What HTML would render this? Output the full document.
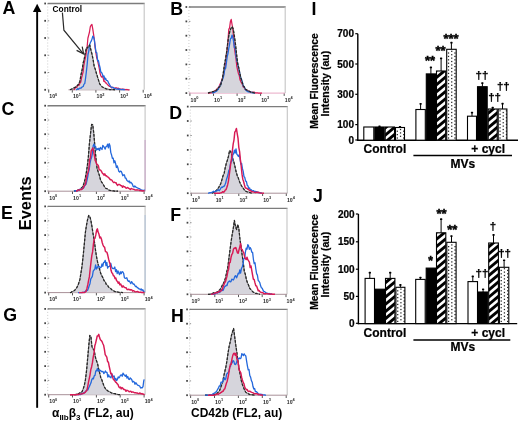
<!DOCTYPE html>
<html><head><meta charset="utf-8"><style>
html,body{margin:0;padding:0;background:#fff;width:520px;height:422px;overflow:hidden}
svg{display:block;will-change:transform}
</style></head><body>
<svg width="520" height="422" viewBox="0 0 520 422">
<rect width="520" height="422" fill="#fff"/>
<text x="2.6" y="14.0" font-size="17.8" font-family="&quot;Liberation Sans&quot;, sans-serif" font-weight="bold">A</text>
<text x="1.4" y="115.2" font-size="17.8" font-family="&quot;Liberation Sans&quot;, sans-serif" font-weight="bold">C</text>
<text x="1.1" y="218.5" font-size="17.8" font-family="&quot;Liberation Sans&quot;, sans-serif" font-weight="bold">E</text>
<text x="3.3" y="321.0" font-size="17.8" font-family="&quot;Liberation Sans&quot;, sans-serif" font-weight="bold">G</text>
<text x="170.3" y="15.3" font-size="17.8" font-family="&quot;Liberation Sans&quot;, sans-serif" font-weight="bold">B</text>
<text x="169.3" y="118.7" font-size="17.8" font-family="&quot;Liberation Sans&quot;, sans-serif" font-weight="bold">D</text>
<text x="170.3" y="221.2" font-size="17.8" font-family="&quot;Liberation Sans&quot;, sans-serif" font-weight="bold">F</text>
<text x="170.9" y="321.5" font-size="17.8" font-family="&quot;Liberation Sans&quot;, sans-serif" font-weight="bold">H</text>
<text x="311.5" y="15.0" font-size="17.8" font-family="&quot;Liberation Sans&quot;, sans-serif" font-weight="bold">I</text>
<text x="312.9" y="202.0" font-size="17.8" font-family="&quot;Liberation Sans&quot;, sans-serif" font-weight="bold">J</text>
<rect x="36.2" y="11" width="1.9" height="396.8" fill="#000"/>
<polygon points="32.9,12.0 41.4,12.0 37.15,3.8" fill="#000"/>
<text transform="translate(31.0,203.3) rotate(-90)" text-anchor="middle" font-size="16.4" font-family="&quot;Liberation Sans&quot;, sans-serif" font-weight="bold">Events</text>
<line x1="47.7" y1="3.5" x2="144.7" y2="3.5" stroke="#7c7c7c" stroke-width="1.35"/>
<line x1="144.2" y1="3.5" x2="144.2" y2="89.8" stroke="#c4c4c4" stroke-width="1.1"/>
<line x1="47.7" y1="3.5" x2="47.7" y2="89.8" stroke="#c0c0c0" stroke-width="0.8" stroke-dasharray="1,2"/>
<line x1="48.7" y1="89.8" x2="48.7" y2="92.6" stroke="#444" stroke-width="0.9"/>
<text x="49.3" y="98.2" font-size="5.2" font-weight="bold" font-family="&quot;Liberation Sans&quot;, sans-serif" fill="#2a2a2a">10<tspan dy="-2.2" font-size="3.9">0</tspan></text>
<line x1="72.3" y1="89.8" x2="72.3" y2="92.6" stroke="#444" stroke-width="0.9"/>
<text x="72.9" y="98.2" font-size="5.2" font-weight="bold" font-family="&quot;Liberation Sans&quot;, sans-serif" fill="#2a2a2a">10<tspan dy="-2.2" font-size="3.9">1</tspan></text>
<line x1="95.9" y1="89.8" x2="95.9" y2="92.6" stroke="#444" stroke-width="0.9"/>
<text x="96.5" y="98.2" font-size="5.2" font-weight="bold" font-family="&quot;Liberation Sans&quot;, sans-serif" fill="#2a2a2a">10<tspan dy="-2.2" font-size="3.9">2</tspan></text>
<line x1="119.6" y1="89.8" x2="119.6" y2="92.6" stroke="#444" stroke-width="0.9"/>
<text x="120.2" y="98.2" font-size="5.2" font-weight="bold" font-family="&quot;Liberation Sans&quot;, sans-serif" fill="#2a2a2a">10<tspan dy="-2.2" font-size="3.9">3</tspan></text>
<line x1="143.2" y1="89.8" x2="143.2" y2="92.6" stroke="#444" stroke-width="0.9"/>
<text x="143.8" y="98.2" font-size="5.2" font-weight="bold" font-family="&quot;Liberation Sans&quot;, sans-serif" fill="#2a2a2a">10<tspan dy="-2.2" font-size="3.9">4</tspan></text>
<rect x="44.3" y="2.6" width="1.7" height="1.8" fill="#444"/>
<line x1="47.7" y1="3.5" x2="49.2" y2="3.5" stroke="#777" stroke-width="0.8"/>
<rect x="44.3" y="19.9" width="1.7" height="1.8" fill="#444"/>
<line x1="47.7" y1="20.8" x2="49.2" y2="20.8" stroke="#777" stroke-width="0.8"/>
<rect x="44.3" y="37.1" width="1.7" height="1.8" fill="#444"/>
<line x1="47.7" y1="38.0" x2="49.2" y2="38.0" stroke="#777" stroke-width="0.8"/>
<rect x="44.3" y="54.4" width="1.7" height="1.8" fill="#444"/>
<line x1="47.7" y1="55.3" x2="49.2" y2="55.3" stroke="#777" stroke-width="0.8"/>
<rect x="44.3" y="71.6" width="1.7" height="1.8" fill="#444"/>
<line x1="47.7" y1="72.5" x2="49.2" y2="72.5" stroke="#777" stroke-width="0.8"/>
<rect x="44.3" y="88.9" width="1.7" height="1.8" fill="#444"/>
<line x1="47.7" y1="89.8" x2="49.2" y2="89.8" stroke="#777" stroke-width="0.8"/>
<line x1="47.7" y1="105.7" x2="145.6" y2="105.7" stroke="#7c7c7c" stroke-width="1.35"/>
<line x1="145.1" y1="105.7" x2="145.1" y2="191.2" stroke="#c4c4c4" stroke-width="1.1"/>
<line x1="47.7" y1="105.7" x2="47.7" y2="191.2" stroke="#c0c0c0" stroke-width="0.8" stroke-dasharray="1,2"/>
<line x1="48.7" y1="191.2" x2="48.7" y2="194.0" stroke="#444" stroke-width="0.9"/>
<text x="49.3" y="199.6" font-size="5.2" font-weight="bold" font-family="&quot;Liberation Sans&quot;, sans-serif" fill="#2a2a2a">10<tspan dy="-2.2" font-size="3.9">0</tspan></text>
<line x1="72.5" y1="191.2" x2="72.5" y2="194.0" stroke="#444" stroke-width="0.9"/>
<text x="73.1" y="199.6" font-size="5.2" font-weight="bold" font-family="&quot;Liberation Sans&quot;, sans-serif" fill="#2a2a2a">10<tspan dy="-2.2" font-size="3.9">1</tspan></text>
<line x1="96.4" y1="191.2" x2="96.4" y2="194.0" stroke="#444" stroke-width="0.9"/>
<text x="97.0" y="199.6" font-size="5.2" font-weight="bold" font-family="&quot;Liberation Sans&quot;, sans-serif" fill="#2a2a2a">10<tspan dy="-2.2" font-size="3.9">2</tspan></text>
<line x1="120.2" y1="191.2" x2="120.2" y2="194.0" stroke="#444" stroke-width="0.9"/>
<text x="120.8" y="199.6" font-size="5.2" font-weight="bold" font-family="&quot;Liberation Sans&quot;, sans-serif" fill="#2a2a2a">10<tspan dy="-2.2" font-size="3.9">3</tspan></text>
<line x1="144.1" y1="191.2" x2="144.1" y2="194.0" stroke="#444" stroke-width="0.9"/>
<text x="144.7" y="199.6" font-size="5.2" font-weight="bold" font-family="&quot;Liberation Sans&quot;, sans-serif" fill="#2a2a2a">10<tspan dy="-2.2" font-size="3.9">4</tspan></text>
<rect x="44.3" y="104.8" width="1.7" height="1.8" fill="#444"/>
<line x1="47.7" y1="105.7" x2="49.2" y2="105.7" stroke="#777" stroke-width="0.8"/>
<rect x="44.3" y="119.0" width="1.7" height="1.8" fill="#444"/>
<line x1="47.7" y1="120.0" x2="49.2" y2="120.0" stroke="#777" stroke-width="0.8"/>
<rect x="44.3" y="133.3" width="1.7" height="1.8" fill="#444"/>
<line x1="47.7" y1="134.2" x2="49.2" y2="134.2" stroke="#777" stroke-width="0.8"/>
<rect x="44.3" y="147.5" width="1.7" height="1.8" fill="#444"/>
<line x1="47.7" y1="148.4" x2="49.2" y2="148.4" stroke="#777" stroke-width="0.8"/>
<rect x="44.3" y="161.8" width="1.7" height="1.8" fill="#444"/>
<line x1="47.7" y1="162.7" x2="49.2" y2="162.7" stroke="#777" stroke-width="0.8"/>
<rect x="44.3" y="176.0" width="1.7" height="1.8" fill="#444"/>
<line x1="47.7" y1="176.9" x2="49.2" y2="176.9" stroke="#777" stroke-width="0.8"/>
<rect x="44.3" y="190.3" width="1.7" height="1.8" fill="#444"/>
<line x1="47.7" y1="191.2" x2="49.2" y2="191.2" stroke="#777" stroke-width="0.8"/>
<line x1="47.7" y1="206.4" x2="145.6" y2="206.4" stroke="#7c7c7c" stroke-width="1.35"/>
<line x1="145.1" y1="206.4" x2="145.1" y2="292.6" stroke="#c4c4c4" stroke-width="1.1"/>
<line x1="47.7" y1="206.4" x2="47.7" y2="292.6" stroke="#c0c0c0" stroke-width="0.8" stroke-dasharray="1,2"/>
<line x1="48.7" y1="292.6" x2="48.7" y2="295.40000000000003" stroke="#444" stroke-width="0.9"/>
<text x="49.3" y="301.0" font-size="5.2" font-weight="bold" font-family="&quot;Liberation Sans&quot;, sans-serif" fill="#2a2a2a">10<tspan dy="-2.2" font-size="3.9">0</tspan></text>
<line x1="72.5" y1="292.6" x2="72.5" y2="295.40000000000003" stroke="#444" stroke-width="0.9"/>
<text x="73.1" y="301.0" font-size="5.2" font-weight="bold" font-family="&quot;Liberation Sans&quot;, sans-serif" fill="#2a2a2a">10<tspan dy="-2.2" font-size="3.9">1</tspan></text>
<line x1="96.4" y1="292.6" x2="96.4" y2="295.40000000000003" stroke="#444" stroke-width="0.9"/>
<text x="97.0" y="301.0" font-size="5.2" font-weight="bold" font-family="&quot;Liberation Sans&quot;, sans-serif" fill="#2a2a2a">10<tspan dy="-2.2" font-size="3.9">2</tspan></text>
<line x1="120.2" y1="292.6" x2="120.2" y2="295.40000000000003" stroke="#444" stroke-width="0.9"/>
<text x="120.8" y="301.0" font-size="5.2" font-weight="bold" font-family="&quot;Liberation Sans&quot;, sans-serif" fill="#2a2a2a">10<tspan dy="-2.2" font-size="3.9">3</tspan></text>
<line x1="144.1" y1="292.6" x2="144.1" y2="295.40000000000003" stroke="#444" stroke-width="0.9"/>
<text x="144.7" y="301.0" font-size="5.2" font-weight="bold" font-family="&quot;Liberation Sans&quot;, sans-serif" fill="#2a2a2a">10<tspan dy="-2.2" font-size="3.9">4</tspan></text>
<rect x="44.3" y="205.5" width="1.7" height="1.8" fill="#444"/>
<line x1="47.7" y1="206.4" x2="49.2" y2="206.4" stroke="#777" stroke-width="0.8"/>
<rect x="44.3" y="219.9" width="1.7" height="1.8" fill="#444"/>
<line x1="47.7" y1="220.8" x2="49.2" y2="220.8" stroke="#777" stroke-width="0.8"/>
<rect x="44.3" y="234.2" width="1.7" height="1.8" fill="#444"/>
<line x1="47.7" y1="235.1" x2="49.2" y2="235.1" stroke="#777" stroke-width="0.8"/>
<rect x="44.3" y="248.6" width="1.7" height="1.8" fill="#444"/>
<line x1="47.7" y1="249.5" x2="49.2" y2="249.5" stroke="#777" stroke-width="0.8"/>
<rect x="44.3" y="263.0" width="1.7" height="1.8" fill="#444"/>
<line x1="47.7" y1="263.9" x2="49.2" y2="263.9" stroke="#777" stroke-width="0.8"/>
<rect x="44.3" y="277.3" width="1.7" height="1.8" fill="#444"/>
<line x1="47.7" y1="278.2" x2="49.2" y2="278.2" stroke="#777" stroke-width="0.8"/>
<rect x="44.3" y="291.7" width="1.7" height="1.8" fill="#444"/>
<line x1="47.7" y1="292.6" x2="49.2" y2="292.6" stroke="#777" stroke-width="0.8"/>
<line x1="47.7" y1="308.9" x2="145.6" y2="308.9" stroke="#7c7c7c" stroke-width="1.35"/>
<line x1="145.1" y1="308.9" x2="145.1" y2="394.7" stroke="#c4c4c4" stroke-width="1.1"/>
<line x1="47.7" y1="308.9" x2="47.7" y2="394.7" stroke="#c0c0c0" stroke-width="0.8" stroke-dasharray="1,2"/>
<line x1="48.7" y1="394.7" x2="48.7" y2="397.5" stroke="#444" stroke-width="0.9"/>
<text x="49.3" y="403.1" font-size="5.2" font-weight="bold" font-family="&quot;Liberation Sans&quot;, sans-serif" fill="#2a2a2a">10<tspan dy="-2.2" font-size="3.9">0</tspan></text>
<line x1="72.5" y1="394.7" x2="72.5" y2="397.5" stroke="#444" stroke-width="0.9"/>
<text x="73.1" y="403.1" font-size="5.2" font-weight="bold" font-family="&quot;Liberation Sans&quot;, sans-serif" fill="#2a2a2a">10<tspan dy="-2.2" font-size="3.9">1</tspan></text>
<line x1="96.4" y1="394.7" x2="96.4" y2="397.5" stroke="#444" stroke-width="0.9"/>
<text x="97.0" y="403.1" font-size="5.2" font-weight="bold" font-family="&quot;Liberation Sans&quot;, sans-serif" fill="#2a2a2a">10<tspan dy="-2.2" font-size="3.9">2</tspan></text>
<line x1="120.2" y1="394.7" x2="120.2" y2="397.5" stroke="#444" stroke-width="0.9"/>
<text x="120.8" y="403.1" font-size="5.2" font-weight="bold" font-family="&quot;Liberation Sans&quot;, sans-serif" fill="#2a2a2a">10<tspan dy="-2.2" font-size="3.9">3</tspan></text>
<line x1="144.1" y1="394.7" x2="144.1" y2="397.5" stroke="#444" stroke-width="0.9"/>
<text x="144.7" y="403.1" font-size="5.2" font-weight="bold" font-family="&quot;Liberation Sans&quot;, sans-serif" fill="#2a2a2a">10<tspan dy="-2.2" font-size="3.9">4</tspan></text>
<rect x="44.3" y="308.0" width="1.7" height="1.8" fill="#444"/>
<line x1="47.7" y1="308.9" x2="49.2" y2="308.9" stroke="#777" stroke-width="0.8"/>
<rect x="44.3" y="322.3" width="1.7" height="1.8" fill="#444"/>
<line x1="47.7" y1="323.2" x2="49.2" y2="323.2" stroke="#777" stroke-width="0.8"/>
<rect x="44.3" y="336.6" width="1.7" height="1.8" fill="#444"/>
<line x1="47.7" y1="337.5" x2="49.2" y2="337.5" stroke="#777" stroke-width="0.8"/>
<rect x="44.3" y="350.9" width="1.7" height="1.8" fill="#444"/>
<line x1="47.7" y1="351.8" x2="49.2" y2="351.8" stroke="#777" stroke-width="0.8"/>
<rect x="44.3" y="365.2" width="1.7" height="1.8" fill="#444"/>
<line x1="47.7" y1="366.1" x2="49.2" y2="366.1" stroke="#777" stroke-width="0.8"/>
<rect x="44.3" y="379.5" width="1.7" height="1.8" fill="#444"/>
<line x1="47.7" y1="380.4" x2="49.2" y2="380.4" stroke="#777" stroke-width="0.8"/>
<rect x="44.3" y="393.8" width="1.7" height="1.8" fill="#444"/>
<line x1="47.7" y1="394.7" x2="49.2" y2="394.7" stroke="#777" stroke-width="0.8"/>
<line x1="188.9" y1="7.0" x2="285.7" y2="7.0" stroke="#7c7c7c" stroke-width="1.35"/>
<line x1="285.2" y1="7.0" x2="285.2" y2="93.1" stroke="#c4c4c4" stroke-width="1.1"/>
<line x1="188.9" y1="7.0" x2="188.9" y2="93.1" stroke="#c0c0c0" stroke-width="0.8" stroke-dasharray="1,2"/>
<line x1="189.9" y1="93.1" x2="189.9" y2="95.89999999999999" stroke="#444" stroke-width="0.9"/>
<text x="190.5" y="101.5" font-size="5.2" font-weight="bold" font-family="&quot;Liberation Sans&quot;, sans-serif" fill="#2a2a2a">10<tspan dy="-2.2" font-size="3.9">0</tspan></text>
<line x1="213.5" y1="93.1" x2="213.5" y2="95.89999999999999" stroke="#444" stroke-width="0.9"/>
<text x="214.1" y="101.5" font-size="5.2" font-weight="bold" font-family="&quot;Liberation Sans&quot;, sans-serif" fill="#2a2a2a">10<tspan dy="-2.2" font-size="3.9">1</tspan></text>
<line x1="237.1" y1="93.1" x2="237.1" y2="95.89999999999999" stroke="#444" stroke-width="0.9"/>
<text x="237.7" y="101.5" font-size="5.2" font-weight="bold" font-family="&quot;Liberation Sans&quot;, sans-serif" fill="#2a2a2a">10<tspan dy="-2.2" font-size="3.9">2</tspan></text>
<line x1="260.6" y1="93.1" x2="260.6" y2="95.89999999999999" stroke="#444" stroke-width="0.9"/>
<text x="261.2" y="101.5" font-size="5.2" font-weight="bold" font-family="&quot;Liberation Sans&quot;, sans-serif" fill="#2a2a2a">10<tspan dy="-2.2" font-size="3.9">3</tspan></text>
<line x1="284.2" y1="93.1" x2="284.2" y2="95.89999999999999" stroke="#444" stroke-width="0.9"/>
<text x="284.8" y="101.5" font-size="5.2" font-weight="bold" font-family="&quot;Liberation Sans&quot;, sans-serif" fill="#2a2a2a">10<tspan dy="-2.2" font-size="3.9">4</tspan></text>
<rect x="185.5" y="6.1" width="1.7" height="1.8" fill="#444"/>
<line x1="188.9" y1="7.0" x2="190.4" y2="7.0" stroke="#777" stroke-width="0.8"/>
<rect x="185.5" y="20.5" width="1.7" height="1.8" fill="#444"/>
<line x1="188.9" y1="21.4" x2="190.4" y2="21.4" stroke="#777" stroke-width="0.8"/>
<rect x="185.5" y="34.8" width="1.7" height="1.8" fill="#444"/>
<line x1="188.9" y1="35.7" x2="190.4" y2="35.7" stroke="#777" stroke-width="0.8"/>
<rect x="185.5" y="49.1" width="1.7" height="1.8" fill="#444"/>
<line x1="188.9" y1="50.0" x2="190.4" y2="50.0" stroke="#777" stroke-width="0.8"/>
<rect x="185.5" y="63.5" width="1.7" height="1.8" fill="#444"/>
<line x1="188.9" y1="64.4" x2="190.4" y2="64.4" stroke="#777" stroke-width="0.8"/>
<rect x="185.5" y="77.8" width="1.7" height="1.8" fill="#444"/>
<line x1="188.9" y1="78.8" x2="190.4" y2="78.8" stroke="#777" stroke-width="0.8"/>
<rect x="185.5" y="92.2" width="1.7" height="1.8" fill="#444"/>
<line x1="188.9" y1="93.1" x2="190.4" y2="93.1" stroke="#777" stroke-width="0.8"/>
<line x1="190.3" y1="106.6" x2="287.8" y2="106.6" stroke="#7c7c7c" stroke-width="1.35"/>
<line x1="287.3" y1="106.6" x2="287.3" y2="193.2" stroke="#c4c4c4" stroke-width="1.1"/>
<line x1="190.3" y1="106.6" x2="190.3" y2="193.2" stroke="#c0c0c0" stroke-width="0.8" stroke-dasharray="1,2"/>
<line x1="191.3" y1="193.2" x2="191.3" y2="196.0" stroke="#444" stroke-width="0.9"/>
<text x="191.9" y="201.6" font-size="5.2" font-weight="bold" font-family="&quot;Liberation Sans&quot;, sans-serif" fill="#2a2a2a">10<tspan dy="-2.2" font-size="3.9">0</tspan></text>
<line x1="215.1" y1="193.2" x2="215.1" y2="196.0" stroke="#444" stroke-width="0.9"/>
<text x="215.7" y="201.6" font-size="5.2" font-weight="bold" font-family="&quot;Liberation Sans&quot;, sans-serif" fill="#2a2a2a">10<tspan dy="-2.2" font-size="3.9">1</tspan></text>
<line x1="238.8" y1="193.2" x2="238.8" y2="196.0" stroke="#444" stroke-width="0.9"/>
<text x="239.4" y="201.6" font-size="5.2" font-weight="bold" font-family="&quot;Liberation Sans&quot;, sans-serif" fill="#2a2a2a">10<tspan dy="-2.2" font-size="3.9">2</tspan></text>
<line x1="262.6" y1="193.2" x2="262.6" y2="196.0" stroke="#444" stroke-width="0.9"/>
<text x="263.2" y="201.6" font-size="5.2" font-weight="bold" font-family="&quot;Liberation Sans&quot;, sans-serif" fill="#2a2a2a">10<tspan dy="-2.2" font-size="3.9">3</tspan></text>
<line x1="286.3" y1="193.2" x2="286.3" y2="196.0" stroke="#444" stroke-width="0.9"/>
<text x="286.9" y="201.6" font-size="5.2" font-weight="bold" font-family="&quot;Liberation Sans&quot;, sans-serif" fill="#2a2a2a">10<tspan dy="-2.2" font-size="3.9">4</tspan></text>
<rect x="186.9" y="105.7" width="1.7" height="1.8" fill="#444"/>
<line x1="190.3" y1="106.6" x2="191.8" y2="106.6" stroke="#777" stroke-width="0.8"/>
<rect x="186.9" y="120.1" width="1.7" height="1.8" fill="#444"/>
<line x1="190.3" y1="121.0" x2="191.8" y2="121.0" stroke="#777" stroke-width="0.8"/>
<rect x="186.9" y="134.6" width="1.7" height="1.8" fill="#444"/>
<line x1="190.3" y1="135.5" x2="191.8" y2="135.5" stroke="#777" stroke-width="0.8"/>
<rect x="186.9" y="149.0" width="1.7" height="1.8" fill="#444"/>
<line x1="190.3" y1="149.9" x2="191.8" y2="149.9" stroke="#777" stroke-width="0.8"/>
<rect x="186.9" y="163.4" width="1.7" height="1.8" fill="#444"/>
<line x1="190.3" y1="164.3" x2="191.8" y2="164.3" stroke="#777" stroke-width="0.8"/>
<rect x="186.9" y="177.9" width="1.7" height="1.8" fill="#444"/>
<line x1="190.3" y1="178.8" x2="191.8" y2="178.8" stroke="#777" stroke-width="0.8"/>
<rect x="186.9" y="192.3" width="1.7" height="1.8" fill="#444"/>
<line x1="190.3" y1="193.2" x2="191.8" y2="193.2" stroke="#777" stroke-width="0.8"/>
<line x1="190.0" y1="208.4" x2="287.5" y2="208.4" stroke="#7c7c7c" stroke-width="1.35"/>
<line x1="287.0" y1="208.4" x2="287.0" y2="294.3" stroke="#c4c4c4" stroke-width="1.1"/>
<line x1="190.0" y1="208.4" x2="190.0" y2="294.3" stroke="#c0c0c0" stroke-width="0.8" stroke-dasharray="1,2"/>
<line x1="191.0" y1="294.3" x2="191.0" y2="297.1" stroke="#444" stroke-width="0.9"/>
<text x="191.6" y="302.7" font-size="5.2" font-weight="bold" font-family="&quot;Liberation Sans&quot;, sans-serif" fill="#2a2a2a">10<tspan dy="-2.2" font-size="3.9">0</tspan></text>
<line x1="214.8" y1="294.3" x2="214.8" y2="297.1" stroke="#444" stroke-width="0.9"/>
<text x="215.3" y="302.7" font-size="5.2" font-weight="bold" font-family="&quot;Liberation Sans&quot;, sans-serif" fill="#2a2a2a">10<tspan dy="-2.2" font-size="3.9">1</tspan></text>
<line x1="238.5" y1="294.3" x2="238.5" y2="297.1" stroke="#444" stroke-width="0.9"/>
<text x="239.1" y="302.7" font-size="5.2" font-weight="bold" font-family="&quot;Liberation Sans&quot;, sans-serif" fill="#2a2a2a">10<tspan dy="-2.2" font-size="3.9">2</tspan></text>
<line x1="262.2" y1="294.3" x2="262.2" y2="297.1" stroke="#444" stroke-width="0.9"/>
<text x="262.9" y="302.7" font-size="5.2" font-weight="bold" font-family="&quot;Liberation Sans&quot;, sans-serif" fill="#2a2a2a">10<tspan dy="-2.2" font-size="3.9">3</tspan></text>
<line x1="286.0" y1="294.3" x2="286.0" y2="297.1" stroke="#444" stroke-width="0.9"/>
<text x="286.6" y="302.7" font-size="5.2" font-weight="bold" font-family="&quot;Liberation Sans&quot;, sans-serif" fill="#2a2a2a">10<tspan dy="-2.2" font-size="3.9">4</tspan></text>
<rect x="186.6" y="207.5" width="1.7" height="1.8" fill="#444"/>
<line x1="190.0" y1="208.4" x2="191.5" y2="208.4" stroke="#777" stroke-width="0.8"/>
<rect x="186.6" y="221.8" width="1.7" height="1.8" fill="#444"/>
<line x1="190.0" y1="222.7" x2="191.5" y2="222.7" stroke="#777" stroke-width="0.8"/>
<rect x="186.6" y="236.1" width="1.7" height="1.8" fill="#444"/>
<line x1="190.0" y1="237.0" x2="191.5" y2="237.0" stroke="#777" stroke-width="0.8"/>
<rect x="186.6" y="250.5" width="1.7" height="1.8" fill="#444"/>
<line x1="190.0" y1="251.4" x2="191.5" y2="251.4" stroke="#777" stroke-width="0.8"/>
<rect x="186.6" y="264.8" width="1.7" height="1.8" fill="#444"/>
<line x1="190.0" y1="265.7" x2="191.5" y2="265.7" stroke="#777" stroke-width="0.8"/>
<rect x="186.6" y="279.1" width="1.7" height="1.8" fill="#444"/>
<line x1="190.0" y1="280.0" x2="191.5" y2="280.0" stroke="#777" stroke-width="0.8"/>
<rect x="186.6" y="293.4" width="1.7" height="1.8" fill="#444"/>
<line x1="190.0" y1="294.3" x2="191.5" y2="294.3" stroke="#777" stroke-width="0.8"/>
<line x1="189.6" y1="309.4" x2="287.7" y2="309.4" stroke="#7c7c7c" stroke-width="1.35"/>
<line x1="287.2" y1="309.4" x2="287.2" y2="395.2" stroke="#c4c4c4" stroke-width="1.1"/>
<line x1="189.6" y1="309.4" x2="189.6" y2="395.2" stroke="#c0c0c0" stroke-width="0.8" stroke-dasharray="1,2"/>
<line x1="190.6" y1="395.2" x2="190.6" y2="398.0" stroke="#444" stroke-width="0.9"/>
<text x="191.2" y="403.6" font-size="5.2" font-weight="bold" font-family="&quot;Liberation Sans&quot;, sans-serif" fill="#2a2a2a">10<tspan dy="-2.2" font-size="3.9">0</tspan></text>
<line x1="214.5" y1="395.2" x2="214.5" y2="398.0" stroke="#444" stroke-width="0.9"/>
<text x="215.1" y="403.6" font-size="5.2" font-weight="bold" font-family="&quot;Liberation Sans&quot;, sans-serif" fill="#2a2a2a">10<tspan dy="-2.2" font-size="3.9">1</tspan></text>
<line x1="238.4" y1="395.2" x2="238.4" y2="398.0" stroke="#444" stroke-width="0.9"/>
<text x="239.0" y="403.6" font-size="5.2" font-weight="bold" font-family="&quot;Liberation Sans&quot;, sans-serif" fill="#2a2a2a">10<tspan dy="-2.2" font-size="3.9">2</tspan></text>
<line x1="262.3" y1="395.2" x2="262.3" y2="398.0" stroke="#444" stroke-width="0.9"/>
<text x="262.9" y="403.6" font-size="5.2" font-weight="bold" font-family="&quot;Liberation Sans&quot;, sans-serif" fill="#2a2a2a">10<tspan dy="-2.2" font-size="3.9">3</tspan></text>
<line x1="286.2" y1="395.2" x2="286.2" y2="398.0" stroke="#444" stroke-width="0.9"/>
<text x="286.8" y="403.6" font-size="5.2" font-weight="bold" font-family="&quot;Liberation Sans&quot;, sans-serif" fill="#2a2a2a">10<tspan dy="-2.2" font-size="3.9">4</tspan></text>
<rect x="186.2" y="308.5" width="1.7" height="1.8" fill="#444"/>
<line x1="189.6" y1="309.4" x2="191.1" y2="309.4" stroke="#777" stroke-width="0.8"/>
<rect x="186.2" y="322.8" width="1.7" height="1.8" fill="#444"/>
<line x1="189.6" y1="323.7" x2="191.1" y2="323.7" stroke="#777" stroke-width="0.8"/>
<rect x="186.2" y="337.1" width="1.7" height="1.8" fill="#444"/>
<line x1="189.6" y1="338.0" x2="191.1" y2="338.0" stroke="#777" stroke-width="0.8"/>
<rect x="186.2" y="351.4" width="1.7" height="1.8" fill="#444"/>
<line x1="189.6" y1="352.3" x2="191.1" y2="352.3" stroke="#777" stroke-width="0.8"/>
<rect x="186.2" y="365.7" width="1.7" height="1.8" fill="#444"/>
<line x1="189.6" y1="366.6" x2="191.1" y2="366.6" stroke="#777" stroke-width="0.8"/>
<rect x="186.2" y="380.0" width="1.7" height="1.8" fill="#444"/>
<line x1="189.6" y1="380.9" x2="191.1" y2="380.9" stroke="#777" stroke-width="0.8"/>
<rect x="186.2" y="394.3" width="1.7" height="1.8" fill="#444"/>
<line x1="189.6" y1="395.2" x2="191.1" y2="395.2" stroke="#777" stroke-width="0.8"/>
<line x1="68.5" y1="89.8" x2="129.5" y2="89.8" stroke="#a89098" stroke-width="1.0"/>
<line x1="47.7" y1="191.2" x2="145.1" y2="191.2" stroke="#a89098" stroke-width="1.0"/>
<line x1="47.7" y1="292.6" x2="145.1" y2="292.6" stroke="#a89098" stroke-width="1.0"/>
<line x1="47.7" y1="394.7" x2="145.1" y2="394.7" stroke="#a89098" stroke-width="1.0"/>
<line x1="188.9" y1="93.1" x2="285.2" y2="93.1" stroke="#e8a8c4" stroke-width="1.0"/>
<line x1="190.3" y1="193.2" x2="287.3" y2="193.2" stroke="#a89098" stroke-width="1.0"/>
<line x1="190.0" y1="294.3" x2="287.0" y2="294.3" stroke="#a89098" stroke-width="1.0"/>
<line x1="189.6" y1="395.2" x2="287.2" y2="395.2" stroke="#a89098" stroke-width="1.0"/>
<line x1="145.1" y1="140" x2="145.1" y2="191.2" stroke="#c9a8c8" stroke-width="1.1"/>
<line x1="145.1" y1="215" x2="145.1" y2="292.6" stroke="#b4c4d8" stroke-width="1.1"/>
<text x="52.6" y="12.4" font-size="8.3" font-family="&quot;Liberation Sans&quot;, sans-serif" font-weight="bold">Control</text>
<polyline points="62.4,12.6 63.9,30.2 83.4,53.8" fill="none" stroke="#2a2a2a" stroke-width="1.2"/>
<polyline points="76.6,50.4 83.6,53.9 82.2,46.6" fill="none" stroke="#2a2a2a" stroke-width="1.2"/>
<defs>
<pattern id="hatch" patternUnits="userSpaceOnUse" width="5.5" height="5.5" patternTransform="rotate(40)">
<rect width="5.5" height="5.5" fill="#fff"/><rect width="2.6" height="5.5" fill="#000"/></pattern>
<pattern id="dots" patternUnits="userSpaceOnUse" width="6.5" height="3.4" x="0.2" y="0">
<rect width="6.5" height="3.4" fill="#fff"/><circle cx="1.2" cy="1.0" r="0.65" fill="#000"/><circle cx="4.45" cy="2.7" r="0.65" fill="#000"/></pattern>
</defs>
<line x1="357.8" y1="33.7" x2="357.8" y2="140.79999999999998" stroke="#000" stroke-width="1.4"/>
<line x1="357.1" y1="140.2" x2="518.0" y2="140.2" stroke="#000" stroke-width="1.4"/>
<line x1="355.3" y1="33.7" x2="357.8" y2="33.7" stroke="#000" stroke-width="1.2"/>
<text x="354.0" y="37.300000000000004" text-anchor="end" font-size="10" font-family="&quot;Liberation Sans&quot;, sans-serif" font-weight="bold" stroke="#000" stroke-width="0.22">700</text>
<line x1="355.3" y1="64.0" x2="357.8" y2="64.0" stroke="#000" stroke-width="1.2"/>
<text x="354.0" y="67.6" text-anchor="end" font-size="10" font-family="&quot;Liberation Sans&quot;, sans-serif" font-weight="bold" stroke="#000" stroke-width="0.22">500</text>
<line x1="355.3" y1="94.3" x2="357.8" y2="94.3" stroke="#000" stroke-width="1.2"/>
<text x="354.0" y="97.89999999999999" text-anchor="end" font-size="10" font-family="&quot;Liberation Sans&quot;, sans-serif" font-weight="bold" stroke="#000" stroke-width="0.22">300</text>
<line x1="355.3" y1="124.6" x2="357.8" y2="124.6" stroke="#000" stroke-width="1.2"/>
<text x="354.0" y="128.2" text-anchor="end" font-size="10" font-family="&quot;Liberation Sans&quot;, sans-serif" font-weight="bold" stroke="#000" stroke-width="0.22">100</text>
<line x1="355.3" y1="140.0" x2="357.8" y2="140.0" stroke="#000" stroke-width="1.2"/>
<text x="354.0" y="143.6" text-anchor="end" font-size="10" font-family="&quot;Liberation Sans&quot;, sans-serif" font-weight="bold" stroke="#000" stroke-width="0.22">0</text>
<rect x="363.8" y="127.0" width="10.0" height="13.2" fill="#fff" stroke="#000" stroke-width="1.1"/>
<line x1="379.5" y1="126.0" x2="379.5" y2="127.0" stroke="#000" stroke-width="1"/>
<rect x="378.35" y="125.40" width="2.3" height="1.7" rx="0.6" fill="#000"/>
<rect x="374.8" y="127.0" width="9.4" height="13.2" fill="#000" stroke="#000" stroke-width="1.1"/>
<clipPath id="c1"><rect x="385.2" y="127.0" width="9.3" height="13.2"/></clipPath>
<rect x="385.2" y="127.0" width="9.3" height="13.2" fill="#fff"/>
<g clip-path="url(#c1)"><line x1="383.70" y1="150.75" x2="396.00" y2="140.54" stroke="#000" stroke-width="2.9"/><line x1="383.70" y1="143.55" x2="396.00" y2="133.34" stroke="#000" stroke-width="2.9"/><line x1="383.70" y1="136.35" x2="396.00" y2="126.14" stroke="#000" stroke-width="2.9"/><line x1="383.70" y1="129.15" x2="396.00" y2="118.94" stroke="#000" stroke-width="2.9"/></g>
<rect x="385.2" y="127.0" width="9.3" height="13.2" fill="none" stroke="#000" stroke-width="1.1"/>
<line x1="400.0" y1="126.5" x2="400.0" y2="127.5" stroke="#000" stroke-width="1"/>
<rect x="398.85" y="125.90" width="2.3" height="1.7" rx="0.6" fill="#000"/>
<clipPath id="c2"><rect x="395.5" y="127.5" width="9.0" height="12.7"/></clipPath>
<rect x="395.5" y="127.5" width="9.0" height="12.7" fill="#fff"/>
<g clip-path="url(#c2)"><rect x="396.70" y="137.40" width="1.25" height="1.25" fill="#222"/><rect x="396.70" y="134.00" width="1.25" height="1.25" fill="#222"/><rect x="396.70" y="130.60" width="1.25" height="1.25" fill="#222"/><rect x="399.90" y="135.70" width="1.25" height="1.25" fill="#222"/><rect x="399.90" y="132.30" width="1.25" height="1.25" fill="#222"/><rect x="399.90" y="128.90" width="1.25" height="1.25" fill="#222"/><rect x="403.10" y="137.40" width="1.25" height="1.25" fill="#222"/><rect x="403.10" y="134.00" width="1.25" height="1.25" fill="#222"/><rect x="403.10" y="130.60" width="1.25" height="1.25" fill="#222"/></g>
<rect x="395.5" y="127.5" width="9.0" height="12.7" fill="none" stroke="#000" stroke-width="1.1"/>
<line x1="420.6" y1="103.6" x2="420.6" y2="109.5" stroke="#000" stroke-width="1"/>
<rect x="419.45" y="103.00" width="2.3" height="1.7" rx="0.6" fill="#000"/>
<rect x="415.9" y="109.5" width="9.4" height="30.7" fill="#fff" stroke="#000" stroke-width="1.1"/>
<line x1="430.9" y1="67.2" x2="430.9" y2="73.9" stroke="#000" stroke-width="1"/>
<rect x="429.75" y="66.60" width="2.3" height="1.7" rx="0.6" fill="#000"/>
<rect x="426.3" y="73.9" width="9.2" height="66.3" fill="#000" stroke="#000" stroke-width="1.1"/>
<line x1="441.1" y1="58.1" x2="441.1" y2="71.0" stroke="#000" stroke-width="1"/>
<rect x="439.95" y="57.50" width="2.3" height="1.7" rx="0.6" fill="#000"/>
<clipPath id="c3"><rect x="436.5" y="71.0" width="9.2" height="69.2"/></clipPath>
<rect x="436.5" y="71.0" width="9.2" height="69.2" fill="#fff"/>
<g clip-path="url(#c3)"><line x1="435.00" y1="150.67" x2="447.20" y2="140.54" stroke="#000" stroke-width="2.9"/><line x1="435.00" y1="143.47" x2="447.20" y2="133.34" stroke="#000" stroke-width="2.9"/><line x1="435.00" y1="136.27" x2="447.20" y2="126.14" stroke="#000" stroke-width="2.9"/><line x1="435.00" y1="129.07" x2="447.20" y2="118.94" stroke="#000" stroke-width="2.9"/><line x1="435.00" y1="121.87" x2="447.20" y2="111.74" stroke="#000" stroke-width="2.9"/><line x1="435.00" y1="114.67" x2="447.20" y2="104.54" stroke="#000" stroke-width="2.9"/><line x1="435.00" y1="107.47" x2="447.20" y2="97.34" stroke="#000" stroke-width="2.9"/><line x1="435.00" y1="100.27" x2="447.20" y2="90.14" stroke="#000" stroke-width="2.9"/><line x1="435.00" y1="93.07" x2="447.20" y2="82.94" stroke="#000" stroke-width="2.9"/><line x1="435.00" y1="85.87" x2="447.20" y2="75.74" stroke="#000" stroke-width="2.9"/><line x1="435.00" y1="78.67" x2="447.20" y2="68.54" stroke="#000" stroke-width="2.9"/><line x1="435.00" y1="71.47" x2="447.20" y2="61.34" stroke="#000" stroke-width="2.9"/></g>
<rect x="436.5" y="71.0" width="9.2" height="69.2" fill="none" stroke="#000" stroke-width="1.1"/>
<line x1="451.4" y1="42.4" x2="451.4" y2="49.3" stroke="#000" stroke-width="1"/>
<rect x="450.30" y="41.80" width="2.3" height="1.7" rx="0.6" fill="#000"/>
<clipPath id="c4"><rect x="446.7" y="49.3" width="9.5" height="90.9"/></clipPath>
<rect x="446.7" y="49.3" width="9.5" height="90.9" fill="#fff"/>
<g clip-path="url(#c4)"><rect x="447.90" y="137.40" width="1.25" height="1.25" fill="#222"/><rect x="447.90" y="134.00" width="1.25" height="1.25" fill="#222"/><rect x="447.90" y="130.60" width="1.25" height="1.25" fill="#222"/><rect x="447.90" y="127.20" width="1.25" height="1.25" fill="#222"/><rect x="447.90" y="123.80" width="1.25" height="1.25" fill="#222"/><rect x="447.90" y="120.40" width="1.25" height="1.25" fill="#222"/><rect x="447.90" y="117.00" width="1.25" height="1.25" fill="#222"/><rect x="447.90" y="113.60" width="1.25" height="1.25" fill="#222"/><rect x="447.90" y="110.20" width="1.25" height="1.25" fill="#222"/><rect x="447.90" y="106.80" width="1.25" height="1.25" fill="#222"/><rect x="447.90" y="103.40" width="1.25" height="1.25" fill="#222"/><rect x="447.90" y="100.00" width="1.25" height="1.25" fill="#222"/><rect x="447.90" y="96.60" width="1.25" height="1.25" fill="#222"/><rect x="447.90" y="93.20" width="1.25" height="1.25" fill="#222"/><rect x="447.90" y="89.80" width="1.25" height="1.25" fill="#222"/><rect x="447.90" y="86.40" width="1.25" height="1.25" fill="#222"/><rect x="447.90" y="83.00" width="1.25" height="1.25" fill="#222"/><rect x="447.90" y="79.60" width="1.25" height="1.25" fill="#222"/><rect x="447.90" y="76.20" width="1.25" height="1.25" fill="#222"/><rect x="447.90" y="72.80" width="1.25" height="1.25" fill="#222"/><rect x="447.90" y="69.40" width="1.25" height="1.25" fill="#222"/><rect x="447.90" y="66.00" width="1.25" height="1.25" fill="#222"/><rect x="447.90" y="62.60" width="1.25" height="1.25" fill="#222"/><rect x="447.90" y="59.20" width="1.25" height="1.25" fill="#222"/><rect x="447.90" y="55.80" width="1.25" height="1.25" fill="#222"/><rect x="447.90" y="52.40" width="1.25" height="1.25" fill="#222"/><rect x="451.10" y="135.70" width="1.25" height="1.25" fill="#222"/><rect x="451.10" y="132.30" width="1.25" height="1.25" fill="#222"/><rect x="451.10" y="128.90" width="1.25" height="1.25" fill="#222"/><rect x="451.10" y="125.50" width="1.25" height="1.25" fill="#222"/><rect x="451.10" y="122.10" width="1.25" height="1.25" fill="#222"/><rect x="451.10" y="118.70" width="1.25" height="1.25" fill="#222"/><rect x="451.10" y="115.30" width="1.25" height="1.25" fill="#222"/><rect x="451.10" y="111.90" width="1.25" height="1.25" fill="#222"/><rect x="451.10" y="108.50" width="1.25" height="1.25" fill="#222"/><rect x="451.10" y="105.10" width="1.25" height="1.25" fill="#222"/><rect x="451.10" y="101.70" width="1.25" height="1.25" fill="#222"/><rect x="451.10" y="98.30" width="1.25" height="1.25" fill="#222"/><rect x="451.10" y="94.90" width="1.25" height="1.25" fill="#222"/><rect x="451.10" y="91.50" width="1.25" height="1.25" fill="#222"/><rect x="451.10" y="88.10" width="1.25" height="1.25" fill="#222"/><rect x="451.10" y="84.70" width="1.25" height="1.25" fill="#222"/><rect x="451.10" y="81.30" width="1.25" height="1.25" fill="#222"/><rect x="451.10" y="77.90" width="1.25" height="1.25" fill="#222"/><rect x="451.10" y="74.50" width="1.25" height="1.25" fill="#222"/><rect x="451.10" y="71.10" width="1.25" height="1.25" fill="#222"/><rect x="451.10" y="67.70" width="1.25" height="1.25" fill="#222"/><rect x="451.10" y="64.30" width="1.25" height="1.25" fill="#222"/><rect x="451.10" y="60.90" width="1.25" height="1.25" fill="#222"/><rect x="451.10" y="57.50" width="1.25" height="1.25" fill="#222"/><rect x="451.10" y="54.10" width="1.25" height="1.25" fill="#222"/><rect x="451.10" y="50.70" width="1.25" height="1.25" fill="#222"/><rect x="454.30" y="137.40" width="1.25" height="1.25" fill="#222"/><rect x="454.30" y="134.00" width="1.25" height="1.25" fill="#222"/><rect x="454.30" y="130.60" width="1.25" height="1.25" fill="#222"/><rect x="454.30" y="127.20" width="1.25" height="1.25" fill="#222"/><rect x="454.30" y="123.80" width="1.25" height="1.25" fill="#222"/><rect x="454.30" y="120.40" width="1.25" height="1.25" fill="#222"/><rect x="454.30" y="117.00" width="1.25" height="1.25" fill="#222"/><rect x="454.30" y="113.60" width="1.25" height="1.25" fill="#222"/><rect x="454.30" y="110.20" width="1.25" height="1.25" fill="#222"/><rect x="454.30" y="106.80" width="1.25" height="1.25" fill="#222"/><rect x="454.30" y="103.40" width="1.25" height="1.25" fill="#222"/><rect x="454.30" y="100.00" width="1.25" height="1.25" fill="#222"/><rect x="454.30" y="96.60" width="1.25" height="1.25" fill="#222"/><rect x="454.30" y="93.20" width="1.25" height="1.25" fill="#222"/><rect x="454.30" y="89.80" width="1.25" height="1.25" fill="#222"/><rect x="454.30" y="86.40" width="1.25" height="1.25" fill="#222"/><rect x="454.30" y="83.00" width="1.25" height="1.25" fill="#222"/><rect x="454.30" y="79.60" width="1.25" height="1.25" fill="#222"/><rect x="454.30" y="76.20" width="1.25" height="1.25" fill="#222"/><rect x="454.30" y="72.80" width="1.25" height="1.25" fill="#222"/><rect x="454.30" y="69.40" width="1.25" height="1.25" fill="#222"/><rect x="454.30" y="66.00" width="1.25" height="1.25" fill="#222"/><rect x="454.30" y="62.60" width="1.25" height="1.25" fill="#222"/><rect x="454.30" y="59.20" width="1.25" height="1.25" fill="#222"/><rect x="454.30" y="55.80" width="1.25" height="1.25" fill="#222"/><rect x="454.30" y="52.40" width="1.25" height="1.25" fill="#222"/></g>
<rect x="446.7" y="49.3" width="9.5" height="90.9" fill="none" stroke="#000" stroke-width="1.1"/>
<line x1="472.0" y1="112.3" x2="472.0" y2="116.2" stroke="#000" stroke-width="1"/>
<rect x="470.85" y="111.70" width="2.3" height="1.7" rx="0.6" fill="#000"/>
<rect x="467.5" y="116.2" width="9.0" height="24.0" fill="#fff" stroke="#000" stroke-width="1.1"/>
<line x1="482.4" y1="82.8" x2="482.4" y2="86.7" stroke="#000" stroke-width="1"/>
<rect x="481.20" y="82.20" width="2.3" height="1.7" rx="0.6" fill="#000"/>
<rect x="477.5" y="86.7" width="9.7" height="53.5" fill="#000" stroke="#000" stroke-width="1.1"/>
<line x1="492.7" y1="107.4" x2="492.7" y2="109.0" stroke="#000" stroke-width="1"/>
<rect x="491.55" y="106.80" width="2.3" height="1.7" rx="0.6" fill="#000"/>
<clipPath id="c5"><rect x="488.2" y="109.0" width="9.0" height="31.2"/></clipPath>
<rect x="488.2" y="109.0" width="9.0" height="31.2" fill="#fff"/>
<g clip-path="url(#c5)"><line x1="486.70" y1="150.50" x2="498.70" y2="140.54" stroke="#000" stroke-width="2.9"/><line x1="486.70" y1="143.30" x2="498.70" y2="133.34" stroke="#000" stroke-width="2.9"/><line x1="486.70" y1="136.10" x2="498.70" y2="126.14" stroke="#000" stroke-width="2.9"/><line x1="486.70" y1="128.90" x2="498.70" y2="118.94" stroke="#000" stroke-width="2.9"/><line x1="486.70" y1="121.70" x2="498.70" y2="111.74" stroke="#000" stroke-width="2.9"/><line x1="486.70" y1="114.50" x2="498.70" y2="104.54" stroke="#000" stroke-width="2.9"/><line x1="486.70" y1="107.30" x2="498.70" y2="97.34" stroke="#000" stroke-width="2.9"/></g>
<rect x="488.2" y="109.0" width="9.0" height="31.2" fill="none" stroke="#000" stroke-width="1.1"/>
<line x1="502.5" y1="103.4" x2="502.5" y2="109.0" stroke="#000" stroke-width="1"/>
<rect x="501.40" y="102.80" width="2.3" height="1.7" rx="0.6" fill="#000"/>
<clipPath id="c6"><rect x="498.2" y="109.0" width="8.7" height="31.2"/></clipPath>
<rect x="498.2" y="109.0" width="8.7" height="31.2" fill="#fff"/>
<g clip-path="url(#c6)"><rect x="499.40" y="137.40" width="1.25" height="1.25" fill="#222"/><rect x="499.40" y="134.00" width="1.25" height="1.25" fill="#222"/><rect x="499.40" y="130.60" width="1.25" height="1.25" fill="#222"/><rect x="499.40" y="127.20" width="1.25" height="1.25" fill="#222"/><rect x="499.40" y="123.80" width="1.25" height="1.25" fill="#222"/><rect x="499.40" y="120.40" width="1.25" height="1.25" fill="#222"/><rect x="499.40" y="117.00" width="1.25" height="1.25" fill="#222"/><rect x="499.40" y="113.60" width="1.25" height="1.25" fill="#222"/><rect x="499.40" y="110.20" width="1.25" height="1.25" fill="#222"/><rect x="502.60" y="135.70" width="1.25" height="1.25" fill="#222"/><rect x="502.60" y="132.30" width="1.25" height="1.25" fill="#222"/><rect x="502.60" y="128.90" width="1.25" height="1.25" fill="#222"/><rect x="502.60" y="125.50" width="1.25" height="1.25" fill="#222"/><rect x="502.60" y="122.10" width="1.25" height="1.25" fill="#222"/><rect x="502.60" y="118.70" width="1.25" height="1.25" fill="#222"/><rect x="502.60" y="115.30" width="1.25" height="1.25" fill="#222"/><rect x="502.60" y="111.90" width="1.25" height="1.25" fill="#222"/><rect x="505.80" y="137.40" width="1.25" height="1.25" fill="#222"/><rect x="505.80" y="134.00" width="1.25" height="1.25" fill="#222"/><rect x="505.80" y="130.60" width="1.25" height="1.25" fill="#222"/><rect x="505.80" y="127.20" width="1.25" height="1.25" fill="#222"/><rect x="505.80" y="123.80" width="1.25" height="1.25" fill="#222"/><rect x="505.80" y="120.40" width="1.25" height="1.25" fill="#222"/><rect x="505.80" y="117.00" width="1.25" height="1.25" fill="#222"/><rect x="505.80" y="113.60" width="1.25" height="1.25" fill="#222"/><rect x="505.80" y="110.20" width="1.25" height="1.25" fill="#222"/></g>
<rect x="498.2" y="109.0" width="8.7" height="31.2" fill="none" stroke="#000" stroke-width="1.1"/>
<text x="425.0" y="65.0" font-size="13" font-family="&quot;Liberation Sans&quot;, sans-serif" font-weight="bold" stroke="#000" stroke-width="0.45">**</text>
<text x="435.5" y="54.7" font-size="13" font-family="&quot;Liberation Sans&quot;, sans-serif" font-weight="bold" stroke="#000" stroke-width="0.45">**</text>
<text x="443.4" y="42.8" font-size="13" font-family="&quot;Liberation Sans&quot;, sans-serif" font-weight="bold" stroke="#000" stroke-width="0.45">***</text>
<text x="475.6" y="78.8" font-size="11.5" font-family="&quot;Liberation Sans&quot;, sans-serif" font-weight="bold" stroke="#000" stroke-width="0.25">††</text>
<text x="488.2" y="101.3" font-size="11.5" font-family="&quot;Liberation Sans&quot;, sans-serif" font-weight="bold" stroke="#000" stroke-width="0.25">††</text>
<text x="496.9" y="90.3" font-size="11.5" font-family="&quot;Liberation Sans&quot;, sans-serif" font-weight="bold" stroke="#000" stroke-width="0.25">††</text>
<text x="363.6" y="153.0" font-size="12" font-family="&quot;Liberation Sans&quot;, sans-serif" font-weight="bold" stroke="#000" stroke-width="0.22">Control</text>
<text x="471.3" y="153.0" font-size="12" font-family="&quot;Liberation Sans&quot;, sans-serif" font-weight="bold" stroke="#000" stroke-width="0.22">+ cycl</text>
<line x1="413.4" y1="155.5" x2="512.0" y2="155.5" stroke="#000" stroke-width="1.3"/>
<text x="450.5" y="168.0" font-size="12" font-family="&quot;Liberation Sans&quot;, sans-serif" font-weight="bold" stroke="#000" stroke-width="0.22">MVs</text>
<text transform="translate(317.8,81) rotate(-90)" text-anchor="middle" font-size="10.3" font-family="&quot;Liberation Sans&quot;, sans-serif" font-weight="bold" stroke="#000" stroke-width="0.22">Mean Fluorescence</text>
<text transform="translate(329.2,83.6) rotate(-90)" text-anchor="middle" font-size="10.6" font-family="&quot;Liberation Sans&quot;, sans-serif" font-weight="bold" stroke="#000" stroke-width="0.22">Intensity (au)</text>
<line x1="358.4" y1="214.0" x2="358.4" y2="324.20000000000005" stroke="#000" stroke-width="1.4"/>
<line x1="357.7" y1="323.6" x2="517.2" y2="323.6" stroke="#000" stroke-width="1.4"/>
<line x1="355.9" y1="214.0" x2="358.4" y2="214.0" stroke="#000" stroke-width="1.2"/>
<text x="354.59999999999997" y="217.6" text-anchor="end" font-size="10" font-family="&quot;Liberation Sans&quot;, sans-serif" font-weight="bold" stroke="#000" stroke-width="0.22">200</text>
<line x1="355.9" y1="241.8" x2="358.4" y2="241.8" stroke="#000" stroke-width="1.2"/>
<text x="354.59999999999997" y="245.4" text-anchor="end" font-size="10" font-family="&quot;Liberation Sans&quot;, sans-serif" font-weight="bold" stroke="#000" stroke-width="0.22">150</text>
<line x1="355.9" y1="269.2" x2="358.4" y2="269.2" stroke="#000" stroke-width="1.2"/>
<text x="354.59999999999997" y="272.8" text-anchor="end" font-size="10" font-family="&quot;Liberation Sans&quot;, sans-serif" font-weight="bold" stroke="#000" stroke-width="0.22">100</text>
<line x1="355.9" y1="296.4" x2="358.4" y2="296.4" stroke="#000" stroke-width="1.2"/>
<text x="354.59999999999997" y="300.0" text-anchor="end" font-size="10" font-family="&quot;Liberation Sans&quot;, sans-serif" font-weight="bold" stroke="#000" stroke-width="0.22">50</text>
<line x1="355.9" y1="323.3" x2="358.4" y2="323.3" stroke="#000" stroke-width="1.2"/>
<text x="354.59999999999997" y="326.90000000000003" text-anchor="end" font-size="10" font-family="&quot;Liberation Sans&quot;, sans-serif" font-weight="bold" stroke="#000" stroke-width="0.22">0</text>
<line x1="369.8" y1="272.4" x2="369.8" y2="278.4" stroke="#000" stroke-width="1"/>
<rect x="368.65" y="271.80" width="2.3" height="1.7" rx="0.6" fill="#000"/>
<rect x="365.1" y="278.4" width="9.4" height="45.2" fill="#fff" stroke="#000" stroke-width="1.1"/>
<rect x="375.5" y="289.2" width="9.0" height="34.4" fill="#000" stroke="#000" stroke-width="1.1"/>
<line x1="390.2" y1="272.4" x2="390.2" y2="278.4" stroke="#000" stroke-width="1"/>
<rect x="389.05" y="271.80" width="2.3" height="1.7" rx="0.6" fill="#000"/>
<clipPath id="c7"><rect x="385.5" y="278.4" width="9.4" height="45.2"/></clipPath>
<rect x="385.5" y="278.4" width="9.4" height="45.2" fill="#fff"/>
<g clip-path="url(#c7)"><line x1="384.00" y1="334.23" x2="396.40" y2="323.94" stroke="#000" stroke-width="2.9"/><line x1="384.00" y1="327.03" x2="396.40" y2="316.74" stroke="#000" stroke-width="2.9"/><line x1="384.00" y1="319.83" x2="396.40" y2="309.54" stroke="#000" stroke-width="2.9"/><line x1="384.00" y1="312.63" x2="396.40" y2="302.34" stroke="#000" stroke-width="2.9"/><line x1="384.00" y1="305.43" x2="396.40" y2="295.14" stroke="#000" stroke-width="2.9"/><line x1="384.00" y1="298.23" x2="396.40" y2="287.94" stroke="#000" stroke-width="2.9"/><line x1="384.00" y1="291.03" x2="396.40" y2="280.74" stroke="#000" stroke-width="2.9"/><line x1="384.00" y1="283.83" x2="396.40" y2="273.54" stroke="#000" stroke-width="2.9"/><line x1="384.00" y1="276.63" x2="396.40" y2="266.34" stroke="#000" stroke-width="2.9"/></g>
<rect x="385.5" y="278.4" width="9.4" height="45.2" fill="none" stroke="#000" stroke-width="1.1"/>
<line x1="400.4" y1="284.7" x2="400.4" y2="287.3" stroke="#000" stroke-width="1"/>
<rect x="399.25" y="284.10" width="2.3" height="1.7" rx="0.6" fill="#000"/>
<clipPath id="c8"><rect x="395.9" y="287.3" width="9.0" height="36.3"/></clipPath>
<rect x="395.9" y="287.3" width="9.0" height="36.3" fill="#fff"/>
<g clip-path="url(#c8)"><rect x="397.10" y="320.80" width="1.25" height="1.25" fill="#222"/><rect x="397.10" y="317.40" width="1.25" height="1.25" fill="#222"/><rect x="397.10" y="314.00" width="1.25" height="1.25" fill="#222"/><rect x="397.10" y="310.60" width="1.25" height="1.25" fill="#222"/><rect x="397.10" y="307.20" width="1.25" height="1.25" fill="#222"/><rect x="397.10" y="303.80" width="1.25" height="1.25" fill="#222"/><rect x="397.10" y="300.40" width="1.25" height="1.25" fill="#222"/><rect x="397.10" y="297.00" width="1.25" height="1.25" fill="#222"/><rect x="397.10" y="293.60" width="1.25" height="1.25" fill="#222"/><rect x="397.10" y="290.20" width="1.25" height="1.25" fill="#222"/><rect x="400.30" y="319.10" width="1.25" height="1.25" fill="#222"/><rect x="400.30" y="315.70" width="1.25" height="1.25" fill="#222"/><rect x="400.30" y="312.30" width="1.25" height="1.25" fill="#222"/><rect x="400.30" y="308.90" width="1.25" height="1.25" fill="#222"/><rect x="400.30" y="305.50" width="1.25" height="1.25" fill="#222"/><rect x="400.30" y="302.10" width="1.25" height="1.25" fill="#222"/><rect x="400.30" y="298.70" width="1.25" height="1.25" fill="#222"/><rect x="400.30" y="295.30" width="1.25" height="1.25" fill="#222"/><rect x="400.30" y="291.90" width="1.25" height="1.25" fill="#222"/><rect x="400.30" y="288.50" width="1.25" height="1.25" fill="#222"/><rect x="403.50" y="320.80" width="1.25" height="1.25" fill="#222"/><rect x="403.50" y="317.40" width="1.25" height="1.25" fill="#222"/><rect x="403.50" y="314.00" width="1.25" height="1.25" fill="#222"/><rect x="403.50" y="310.60" width="1.25" height="1.25" fill="#222"/><rect x="403.50" y="307.20" width="1.25" height="1.25" fill="#222"/><rect x="403.50" y="303.80" width="1.25" height="1.25" fill="#222"/><rect x="403.50" y="300.40" width="1.25" height="1.25" fill="#222"/><rect x="403.50" y="297.00" width="1.25" height="1.25" fill="#222"/><rect x="403.50" y="293.60" width="1.25" height="1.25" fill="#222"/><rect x="403.50" y="290.20" width="1.25" height="1.25" fill="#222"/></g>
<rect x="395.9" y="287.3" width="9.0" height="36.3" fill="none" stroke="#000" stroke-width="1.1"/>
<line x1="420.4" y1="277.3" x2="420.4" y2="279.4" stroke="#000" stroke-width="1"/>
<rect x="419.30" y="276.70" width="2.3" height="1.7" rx="0.6" fill="#000"/>
<rect x="415.7" y="279.4" width="9.5" height="44.2" fill="#fff" stroke="#000" stroke-width="1.1"/>
<rect x="426.2" y="268.1" width="9.3" height="55.5" fill="#000" stroke="#000" stroke-width="1.1"/>
<line x1="441.1" y1="218.9" x2="441.1" y2="232.8" stroke="#000" stroke-width="1"/>
<rect x="440.00" y="218.30" width="2.3" height="1.7" rx="0.6" fill="#000"/>
<clipPath id="c9"><rect x="436.5" y="232.8" width="9.3" height="90.8"/></clipPath>
<rect x="436.5" y="232.8" width="9.3" height="90.8" fill="#fff"/>
<g clip-path="url(#c9)"><line x1="435.00" y1="334.15" x2="447.30" y2="323.94" stroke="#000" stroke-width="2.9"/><line x1="435.00" y1="326.95" x2="447.30" y2="316.74" stroke="#000" stroke-width="2.9"/><line x1="435.00" y1="319.75" x2="447.30" y2="309.54" stroke="#000" stroke-width="2.9"/><line x1="435.00" y1="312.55" x2="447.30" y2="302.34" stroke="#000" stroke-width="2.9"/><line x1="435.00" y1="305.35" x2="447.30" y2="295.14" stroke="#000" stroke-width="2.9"/><line x1="435.00" y1="298.15" x2="447.30" y2="287.94" stroke="#000" stroke-width="2.9"/><line x1="435.00" y1="290.95" x2="447.30" y2="280.74" stroke="#000" stroke-width="2.9"/><line x1="435.00" y1="283.75" x2="447.30" y2="273.54" stroke="#000" stroke-width="2.9"/><line x1="435.00" y1="276.55" x2="447.30" y2="266.34" stroke="#000" stroke-width="2.9"/><line x1="435.00" y1="269.35" x2="447.30" y2="259.14" stroke="#000" stroke-width="2.9"/><line x1="435.00" y1="262.15" x2="447.30" y2="251.94" stroke="#000" stroke-width="2.9"/><line x1="435.00" y1="254.95" x2="447.30" y2="244.74" stroke="#000" stroke-width="2.9"/><line x1="435.00" y1="247.75" x2="447.30" y2="237.54" stroke="#000" stroke-width="2.9"/><line x1="435.00" y1="240.55" x2="447.30" y2="230.34" stroke="#000" stroke-width="2.9"/><line x1="435.00" y1="233.35" x2="447.30" y2="223.14" stroke="#000" stroke-width="2.9"/></g>
<rect x="436.5" y="232.8" width="9.3" height="90.8" fill="none" stroke="#000" stroke-width="1.1"/>
<line x1="451.5" y1="235.8" x2="451.5" y2="242.3" stroke="#000" stroke-width="1"/>
<rect x="450.30" y="235.20" width="2.3" height="1.7" rx="0.6" fill="#000"/>
<clipPath id="c10"><rect x="446.8" y="242.3" width="9.3" height="81.3"/></clipPath>
<rect x="446.8" y="242.3" width="9.3" height="81.3" fill="#fff"/>
<g clip-path="url(#c10)"><rect x="448.00" y="320.80" width="1.25" height="1.25" fill="#222"/><rect x="448.00" y="317.40" width="1.25" height="1.25" fill="#222"/><rect x="448.00" y="314.00" width="1.25" height="1.25" fill="#222"/><rect x="448.00" y="310.60" width="1.25" height="1.25" fill="#222"/><rect x="448.00" y="307.20" width="1.25" height="1.25" fill="#222"/><rect x="448.00" y="303.80" width="1.25" height="1.25" fill="#222"/><rect x="448.00" y="300.40" width="1.25" height="1.25" fill="#222"/><rect x="448.00" y="297.00" width="1.25" height="1.25" fill="#222"/><rect x="448.00" y="293.60" width="1.25" height="1.25" fill="#222"/><rect x="448.00" y="290.20" width="1.25" height="1.25" fill="#222"/><rect x="448.00" y="286.80" width="1.25" height="1.25" fill="#222"/><rect x="448.00" y="283.40" width="1.25" height="1.25" fill="#222"/><rect x="448.00" y="280.00" width="1.25" height="1.25" fill="#222"/><rect x="448.00" y="276.60" width="1.25" height="1.25" fill="#222"/><rect x="448.00" y="273.20" width="1.25" height="1.25" fill="#222"/><rect x="448.00" y="269.80" width="1.25" height="1.25" fill="#222"/><rect x="448.00" y="266.40" width="1.25" height="1.25" fill="#222"/><rect x="448.00" y="263.00" width="1.25" height="1.25" fill="#222"/><rect x="448.00" y="259.60" width="1.25" height="1.25" fill="#222"/><rect x="448.00" y="256.20" width="1.25" height="1.25" fill="#222"/><rect x="448.00" y="252.80" width="1.25" height="1.25" fill="#222"/><rect x="448.00" y="249.40" width="1.25" height="1.25" fill="#222"/><rect x="448.00" y="246.00" width="1.25" height="1.25" fill="#222"/><rect x="451.20" y="319.10" width="1.25" height="1.25" fill="#222"/><rect x="451.20" y="315.70" width="1.25" height="1.25" fill="#222"/><rect x="451.20" y="312.30" width="1.25" height="1.25" fill="#222"/><rect x="451.20" y="308.90" width="1.25" height="1.25" fill="#222"/><rect x="451.20" y="305.50" width="1.25" height="1.25" fill="#222"/><rect x="451.20" y="302.10" width="1.25" height="1.25" fill="#222"/><rect x="451.20" y="298.70" width="1.25" height="1.25" fill="#222"/><rect x="451.20" y="295.30" width="1.25" height="1.25" fill="#222"/><rect x="451.20" y="291.90" width="1.25" height="1.25" fill="#222"/><rect x="451.20" y="288.50" width="1.25" height="1.25" fill="#222"/><rect x="451.20" y="285.10" width="1.25" height="1.25" fill="#222"/><rect x="451.20" y="281.70" width="1.25" height="1.25" fill="#222"/><rect x="451.20" y="278.30" width="1.25" height="1.25" fill="#222"/><rect x="451.20" y="274.90" width="1.25" height="1.25" fill="#222"/><rect x="451.20" y="271.50" width="1.25" height="1.25" fill="#222"/><rect x="451.20" y="268.10" width="1.25" height="1.25" fill="#222"/><rect x="451.20" y="264.70" width="1.25" height="1.25" fill="#222"/><rect x="451.20" y="261.30" width="1.25" height="1.25" fill="#222"/><rect x="451.20" y="257.90" width="1.25" height="1.25" fill="#222"/><rect x="451.20" y="254.50" width="1.25" height="1.25" fill="#222"/><rect x="451.20" y="251.10" width="1.25" height="1.25" fill="#222"/><rect x="451.20" y="247.70" width="1.25" height="1.25" fill="#222"/><rect x="451.20" y="244.30" width="1.25" height="1.25" fill="#222"/><rect x="454.40" y="320.80" width="1.25" height="1.25" fill="#222"/><rect x="454.40" y="317.40" width="1.25" height="1.25" fill="#222"/><rect x="454.40" y="314.00" width="1.25" height="1.25" fill="#222"/><rect x="454.40" y="310.60" width="1.25" height="1.25" fill="#222"/><rect x="454.40" y="307.20" width="1.25" height="1.25" fill="#222"/><rect x="454.40" y="303.80" width="1.25" height="1.25" fill="#222"/><rect x="454.40" y="300.40" width="1.25" height="1.25" fill="#222"/><rect x="454.40" y="297.00" width="1.25" height="1.25" fill="#222"/><rect x="454.40" y="293.60" width="1.25" height="1.25" fill="#222"/><rect x="454.40" y="290.20" width="1.25" height="1.25" fill="#222"/><rect x="454.40" y="286.80" width="1.25" height="1.25" fill="#222"/><rect x="454.40" y="283.40" width="1.25" height="1.25" fill="#222"/><rect x="454.40" y="280.00" width="1.25" height="1.25" fill="#222"/><rect x="454.40" y="276.60" width="1.25" height="1.25" fill="#222"/><rect x="454.40" y="273.20" width="1.25" height="1.25" fill="#222"/><rect x="454.40" y="269.80" width="1.25" height="1.25" fill="#222"/><rect x="454.40" y="266.40" width="1.25" height="1.25" fill="#222"/><rect x="454.40" y="263.00" width="1.25" height="1.25" fill="#222"/><rect x="454.40" y="259.60" width="1.25" height="1.25" fill="#222"/><rect x="454.40" y="256.20" width="1.25" height="1.25" fill="#222"/><rect x="454.40" y="252.80" width="1.25" height="1.25" fill="#222"/><rect x="454.40" y="249.40" width="1.25" height="1.25" fill="#222"/><rect x="454.40" y="246.00" width="1.25" height="1.25" fill="#222"/></g>
<rect x="446.8" y="242.3" width="9.3" height="81.3" fill="none" stroke="#000" stroke-width="1.1"/>
<line x1="472.8" y1="276.2" x2="472.8" y2="281.6" stroke="#000" stroke-width="1"/>
<rect x="471.60" y="275.60" width="2.3" height="1.7" rx="0.6" fill="#000"/>
<rect x="468.0" y="281.6" width="9.5" height="42.0" fill="#fff" stroke="#000" stroke-width="1.1"/>
<line x1="483.1" y1="289.0" x2="483.1" y2="292.0" stroke="#000" stroke-width="1"/>
<rect x="481.95" y="288.40" width="2.3" height="1.7" rx="0.6" fill="#000"/>
<rect x="478.5" y="292.0" width="9.2" height="31.6" fill="#000" stroke="#000" stroke-width="1.1"/>
<line x1="493.5" y1="234.7" x2="493.5" y2="243.0" stroke="#000" stroke-width="1"/>
<rect x="492.40" y="234.10" width="2.3" height="1.7" rx="0.6" fill="#000"/>
<clipPath id="c11"><rect x="488.7" y="243.0" width="9.7" height="80.6"/></clipPath>
<rect x="488.7" y="243.0" width="9.7" height="80.6" fill="#fff"/>
<g clip-path="url(#c11)"><line x1="487.20" y1="334.48" x2="499.90" y2="323.94" stroke="#000" stroke-width="2.9"/><line x1="487.20" y1="327.28" x2="499.90" y2="316.74" stroke="#000" stroke-width="2.9"/><line x1="487.20" y1="320.08" x2="499.90" y2="309.54" stroke="#000" stroke-width="2.9"/><line x1="487.20" y1="312.88" x2="499.90" y2="302.34" stroke="#000" stroke-width="2.9"/><line x1="487.20" y1="305.68" x2="499.90" y2="295.14" stroke="#000" stroke-width="2.9"/><line x1="487.20" y1="298.48" x2="499.90" y2="287.94" stroke="#000" stroke-width="2.9"/><line x1="487.20" y1="291.28" x2="499.90" y2="280.74" stroke="#000" stroke-width="2.9"/><line x1="487.20" y1="284.08" x2="499.90" y2="273.54" stroke="#000" stroke-width="2.9"/><line x1="487.20" y1="276.88" x2="499.90" y2="266.34" stroke="#000" stroke-width="2.9"/><line x1="487.20" y1="269.68" x2="499.90" y2="259.14" stroke="#000" stroke-width="2.9"/><line x1="487.20" y1="262.48" x2="499.90" y2="251.94" stroke="#000" stroke-width="2.9"/><line x1="487.20" y1="255.28" x2="499.90" y2="244.74" stroke="#000" stroke-width="2.9"/><line x1="487.20" y1="248.08" x2="499.90" y2="237.54" stroke="#000" stroke-width="2.9"/></g>
<rect x="488.7" y="243.0" width="9.7" height="80.6" fill="none" stroke="#000" stroke-width="1.1"/>
<line x1="504.1" y1="260.0" x2="504.1" y2="267.3" stroke="#000" stroke-width="1"/>
<rect x="502.95" y="259.40" width="2.3" height="1.7" rx="0.6" fill="#000"/>
<clipPath id="c12"><rect x="499.4" y="267.3" width="9.4" height="56.3"/></clipPath>
<rect x="499.4" y="267.3" width="9.4" height="56.3" fill="#fff"/>
<g clip-path="url(#c12)"><rect x="500.60" y="320.80" width="1.25" height="1.25" fill="#222"/><rect x="500.60" y="317.40" width="1.25" height="1.25" fill="#222"/><rect x="500.60" y="314.00" width="1.25" height="1.25" fill="#222"/><rect x="500.60" y="310.60" width="1.25" height="1.25" fill="#222"/><rect x="500.60" y="307.20" width="1.25" height="1.25" fill="#222"/><rect x="500.60" y="303.80" width="1.25" height="1.25" fill="#222"/><rect x="500.60" y="300.40" width="1.25" height="1.25" fill="#222"/><rect x="500.60" y="297.00" width="1.25" height="1.25" fill="#222"/><rect x="500.60" y="293.60" width="1.25" height="1.25" fill="#222"/><rect x="500.60" y="290.20" width="1.25" height="1.25" fill="#222"/><rect x="500.60" y="286.80" width="1.25" height="1.25" fill="#222"/><rect x="500.60" y="283.40" width="1.25" height="1.25" fill="#222"/><rect x="500.60" y="280.00" width="1.25" height="1.25" fill="#222"/><rect x="500.60" y="276.60" width="1.25" height="1.25" fill="#222"/><rect x="500.60" y="273.20" width="1.25" height="1.25" fill="#222"/><rect x="500.60" y="269.80" width="1.25" height="1.25" fill="#222"/><rect x="503.80" y="319.10" width="1.25" height="1.25" fill="#222"/><rect x="503.80" y="315.70" width="1.25" height="1.25" fill="#222"/><rect x="503.80" y="312.30" width="1.25" height="1.25" fill="#222"/><rect x="503.80" y="308.90" width="1.25" height="1.25" fill="#222"/><rect x="503.80" y="305.50" width="1.25" height="1.25" fill="#222"/><rect x="503.80" y="302.10" width="1.25" height="1.25" fill="#222"/><rect x="503.80" y="298.70" width="1.25" height="1.25" fill="#222"/><rect x="503.80" y="295.30" width="1.25" height="1.25" fill="#222"/><rect x="503.80" y="291.90" width="1.25" height="1.25" fill="#222"/><rect x="503.80" y="288.50" width="1.25" height="1.25" fill="#222"/><rect x="503.80" y="285.10" width="1.25" height="1.25" fill="#222"/><rect x="503.80" y="281.70" width="1.25" height="1.25" fill="#222"/><rect x="503.80" y="278.30" width="1.25" height="1.25" fill="#222"/><rect x="503.80" y="274.90" width="1.25" height="1.25" fill="#222"/><rect x="503.80" y="271.50" width="1.25" height="1.25" fill="#222"/><rect x="503.80" y="268.10" width="1.25" height="1.25" fill="#222"/><rect x="507.00" y="320.80" width="1.25" height="1.25" fill="#222"/><rect x="507.00" y="317.40" width="1.25" height="1.25" fill="#222"/><rect x="507.00" y="314.00" width="1.25" height="1.25" fill="#222"/><rect x="507.00" y="310.60" width="1.25" height="1.25" fill="#222"/><rect x="507.00" y="307.20" width="1.25" height="1.25" fill="#222"/><rect x="507.00" y="303.80" width="1.25" height="1.25" fill="#222"/><rect x="507.00" y="300.40" width="1.25" height="1.25" fill="#222"/><rect x="507.00" y="297.00" width="1.25" height="1.25" fill="#222"/><rect x="507.00" y="293.60" width="1.25" height="1.25" fill="#222"/><rect x="507.00" y="290.20" width="1.25" height="1.25" fill="#222"/><rect x="507.00" y="286.80" width="1.25" height="1.25" fill="#222"/><rect x="507.00" y="283.40" width="1.25" height="1.25" fill="#222"/><rect x="507.00" y="280.00" width="1.25" height="1.25" fill="#222"/><rect x="507.00" y="276.60" width="1.25" height="1.25" fill="#222"/><rect x="507.00" y="273.20" width="1.25" height="1.25" fill="#222"/><rect x="507.00" y="269.80" width="1.25" height="1.25" fill="#222"/></g>
<rect x="499.4" y="267.3" width="9.4" height="56.3" fill="none" stroke="#000" stroke-width="1.1"/>
<text x="428.3" y="265.3" font-size="12" font-family="&quot;Liberation Sans&quot;, sans-serif" font-weight="bold" stroke="#000" stroke-width="0.45">*</text>
<text x="436.4" y="218.0" font-size="13" font-family="&quot;Liberation Sans&quot;, sans-serif" font-weight="bold" stroke="#000" stroke-width="0.45">**</text>
<text x="447.2" y="233.8" font-size="13" font-family="&quot;Liberation Sans&quot;, sans-serif" font-weight="bold" stroke="#000" stroke-width="0.45">**</text>
<text x="475.6" y="277.3" font-size="11.5" font-family="&quot;Liberation Sans&quot;, sans-serif" font-weight="bold" stroke="#000" stroke-width="0.25">††</text>
<text x="489.8" y="230.3" font-size="11.5" font-family="&quot;Liberation Sans&quot;, sans-serif" font-weight="bold" stroke="#000" stroke-width="0.25">†</text>
<text x="498.2" y="257.0" font-size="11.5" font-family="&quot;Liberation Sans&quot;, sans-serif" font-weight="bold" stroke="#000" stroke-width="0.25">††</text>
<text x="363.6" y="336.5" font-size="12" font-family="&quot;Liberation Sans&quot;, sans-serif" font-weight="bold" stroke="#000" stroke-width="0.22">Control</text>
<text x="471.3" y="336.5" font-size="12" font-family="&quot;Liberation Sans&quot;, sans-serif" font-weight="bold" stroke="#000" stroke-width="0.22">+ cycl</text>
<line x1="413.4" y1="340.0" x2="510.3" y2="340.0" stroke="#000" stroke-width="1.3"/>
<text x="450.5" y="351.3" font-size="12" font-family="&quot;Liberation Sans&quot;, sans-serif" font-weight="bold" stroke="#000" stroke-width="0.22">MVs</text>
<text transform="translate(317.8,262) rotate(-90)" text-anchor="middle" font-size="10.3" font-family="&quot;Liberation Sans&quot;, sans-serif" font-weight="bold" stroke="#000" stroke-width="0.22">Mean Fluorescence</text>
<text transform="translate(329.2,264.6) rotate(-90)" text-anchor="middle" font-size="10.6" font-family="&quot;Liberation Sans&quot;, sans-serif" font-weight="bold" stroke="#000" stroke-width="0.22">Intensity (au)</text>
<text x="52" y="416.8" font-size="12" font-family="&quot;Liberation Sans&quot;, sans-serif" font-weight="bold">α<tspan font-size="8" dy="3.1">IIb</tspan><tspan dy="-3.1">β</tspan><tspan font-size="8" dy="3.1">3</tspan><tspan dy="-3.1"> (FL2, au)</tspan></text>
<text x="191" y="416.9" font-size="12" font-family="&quot;Liberation Sans&quot;, sans-serif" font-weight="bold">CD42b (FL2, au)</text>
<path d="M70.00,89.80 L71.10,89.26 L72.20,88.97 L73.30,88.19 L74.40,87.65 L75.50,87.09 L76.60,85.94 L77.70,85.29 L78.80,83.85 L79.90,81.16 L81.00,74.76 L82.10,69.87 L83.20,62.95 L84.30,58.42 L85.40,52.33 L86.50,47.74 L87.60,47.89 L88.70,45.39 L89.80,45.04 L90.90,50.03 L92.00,54.17 L93.10,59.53 L94.20,66.36 L95.30,69.32 L96.40,73.28 L97.50,76.84 L98.60,80.36 L99.70,83.81 L100.80,85.34 L101.90,86.79 L103.00,87.26 L104.10,87.96 L105.20,88.35 L106.30,88.85 L107.40,89.05 L108.50,89.19 L109.60,89.58 L110.70,89.66 L111.80,89.68 L112.90,89.71 L114.00,89.70 L115.00,89.80 L115.00,89.80 L70.00,89.80 Z" fill="#d6d5dc"/>
<path d="M208.00,93.10 L209.10,92.69 L210.20,92.26 L211.30,92.26 L212.40,91.71 L213.50,91.61 L214.60,90.80 L215.70,90.69 L216.80,89.83 L217.90,88.09 L219.00,87.22 L220.10,86.45 L221.20,82.95 L222.30,79.47 L223.40,72.07 L224.50,64.07 L225.60,58.64 L226.70,51.50 L227.80,42.34 L228.90,35.24 L230.00,30.75 L231.10,28.05 L232.20,26.62 L233.30,29.19 L234.40,36.20 L235.50,44.30 L236.60,54.32 L237.70,63.95 L238.80,67.79 L239.90,73.77 L241.00,78.54 L242.10,81.96 L243.20,85.54 L244.30,86.98 L245.40,89.18 L246.50,89.72 L247.60,90.67 L248.70,91.02 L249.80,91.48 L250.90,92.24 L252.00,92.43 L253.10,92.49 L254.20,92.96 L255.00,93.10 L255.00,93.10 L208.00,93.10 Z" fill="#d6d5dc"/>
<path d="M74.00,191.20 L75.10,190.82 L76.20,190.72 L77.30,190.34 L78.40,189.66 L79.50,189.79 L80.60,188.58 L81.70,187.64 L82.80,186.59 L83.90,183.41 L85.00,179.44 L86.10,173.85 L87.20,166.86 L88.30,157.45 L89.40,143.82 L90.50,133.83 L91.60,124.47 L92.70,124.51 L93.80,133.27 L94.90,146.57 L96.00,159.02 L97.10,168.68 L98.20,171.89 L99.30,175.13 L100.40,179.43 L101.50,181.92 L102.60,183.39 L103.70,185.21 L104.80,187.23 L105.90,188.42 L107.00,188.55 L108.10,189.77 L109.20,190.20 L110.30,190.45 L111.40,190.66 L112.50,190.75 L113.60,190.87 L114.70,191.15 L115.80,191.06 L116.90,191.17 L118.00,191.20 L118.00,191.20 L118.00,191.20 L74.00,191.20 Z" fill="#d6d5dc"/>
<path d="M212.00,193.20 L213.10,192.59 L214.20,191.80 L215.30,191.01 L216.40,190.65 L217.50,188.99 L218.60,187.58 L219.70,185.76 L220.80,183.40 L221.90,179.79 L223.00,175.80 L224.10,173.55 L225.20,167.81 L226.30,163.37 L227.40,160.08 L228.50,156.13 L229.60,150.49 L230.70,151.53 L231.80,154.96 L232.90,159.14 L234.00,162.47 L235.10,167.04 L236.20,172.12 L237.30,175.71 L238.40,178.29 L239.50,181.57 L240.60,184.27 L241.70,185.98 L242.80,187.75 L243.90,189.08 L245.00,190.85 L246.10,191.32 L247.20,191.97 L248.30,191.79 L249.40,192.48 L250.50,192.74 L251.60,193.11 L252.00,193.20 L252.00,193.20 L212.00,193.20 Z" fill="#d6d5dc"/>
<path d="M70.00,292.60 L71.10,292.38 L72.20,291.61 L73.30,291.27 L74.40,290.49 L75.50,289.50 L76.60,287.88 L77.70,285.85 L78.80,283.10 L79.90,279.39 L81.00,272.73 L82.10,265.49 L83.20,255.51 L84.30,244.13 L85.40,232.38 L86.50,225.03 L87.60,219.42 L88.70,215.51 L89.80,216.49 L90.90,220.39 L92.00,226.92 L93.10,234.04 L94.20,239.76 L95.30,248.62 L96.40,255.98 L97.50,261.59 L98.60,266.37 L99.70,269.58 L100.80,273.63 L101.90,275.86 L103.00,277.87 L104.10,280.82 L105.20,281.50 L106.30,284.41 L107.40,284.88 L108.50,286.94 L109.60,287.85 L110.70,288.52 L111.80,289.80 L112.90,290.33 L114.00,291.03 L115.10,291.71 L116.20,291.76 L117.30,291.95 L118.40,292.23 L119.50,292.44 L120.60,292.41 L121.70,292.47 L122.80,292.60 L123.00,292.60 L123.00,292.60 L70.00,292.60 Z" fill="#d6d5dc"/>
<path d="M208.00,294.30 L209.10,294.26 L210.20,294.17 L211.30,293.66 L212.40,293.48 L213.50,292.89 L214.60,292.68 L215.70,292.56 L216.80,292.21 L217.90,291.63 L219.00,290.36 L220.10,289.42 L221.20,287.52 L222.30,285.21 L223.40,283.33 L224.50,281.14 L225.60,277.44 L226.70,272.19 L227.80,267.35 L228.90,258.58 L230.00,249.80 L231.10,241.57 L232.20,234.46 L233.30,228.11 L234.40,220.30 L235.50,226.87 L236.60,229.58 L237.70,224.53 L238.80,228.13 L239.90,238.72 L241.00,246.79 L242.10,254.53 L243.20,262.01 L244.30,271.20 L245.40,274.56 L246.50,280.08 L247.60,283.07 L248.70,285.44 L249.80,288.50 L250.90,289.44 L252.00,290.89 L253.10,292.06 L254.20,292.41 L255.30,293.34 L256.40,293.34 L257.50,293.60 L258.60,293.84 L259.70,294.24 L260.00,294.30 L260.00,294.30 L208.00,294.30 Z" fill="#d6d5dc"/>
<path d="M70.00,394.70 L71.10,394.70 L72.20,394.70 L73.30,394.70 L74.40,394.70 L75.50,394.57 L76.60,394.16 L77.70,393.99 L78.80,393.51 L79.90,392.92 L81.00,392.53 L82.10,391.61 L83.20,388.96 L84.30,385.47 L85.40,379.89 L86.50,371.20 L87.60,358.89 L88.70,346.37 L89.80,335.31 L90.90,336.57 L92.00,346.75 L93.10,348.97 L94.20,350.33 L95.30,356.77 L96.40,360.59 L97.50,363.37 L98.60,368.59 L99.70,373.07 L100.80,377.71 L101.90,380.06 L103.00,383.32 L104.10,386.39 L105.20,388.28 L106.30,389.95 L107.40,390.43 L108.50,391.41 L109.60,391.60 L110.70,392.55 L111.80,393.04 L112.90,393.30 L114.00,393.65 L115.10,393.64 L116.20,394.19 L117.30,394.40 L118.40,394.55 L119.50,394.61 L120.00,394.70 L120.00,394.70 L70.00,394.70 Z" fill="#d6d5dc"/>
<path d="M205.00,395.20 L206.10,395.20 L207.20,395.20 L208.30,395.20 L209.40,395.20 L210.50,395.20 L211.60,395.16 L212.70,395.01 L213.80,394.81 L214.90,394.37 L216.00,393.69 L217.10,393.60 L218.20,392.08 L219.30,391.37 L220.40,388.31 L221.50,385.22 L222.60,382.05 L223.70,376.44 L224.80,371.50 L225.90,366.81 L227.00,360.43 L228.10,352.56 L229.20,346.15 L230.30,341.66 L231.40,335.66 L232.50,331.80 L233.60,328.51 L234.70,336.68 L235.80,345.45 L236.90,352.71 L238.00,361.64 L239.10,368.67 L240.20,374.66 L241.30,380.59 L242.40,384.51 L243.50,387.43 L244.60,389.99 L245.70,392.12 L246.80,393.16 L247.90,393.34 L249.00,394.19 L250.10,394.53 L251.20,394.55 L252.30,394.76 L253.40,394.83 L254.50,395.10 L255.00,395.20 L255.00,395.20 L205.00,395.20 Z" fill="#d6d5dc"/>
<path d="M73.50,89.80 L74.30,89.35 L75.10,88.04 L75.90,87.41 L76.70,87.34 L77.50,85.88 L78.30,84.73 L79.10,85.15 L79.90,83.17 L80.70,82.38 L81.50,78.15 L82.30,75.21 L83.10,71.87 L83.90,65.02 L84.70,60.61 L85.50,57.37 L86.30,52.62 L87.10,47.21 L87.90,38.25 L88.70,35.08 L89.50,31.98 L90.30,26.75 L91.10,25.16 L91.90,24.48 L92.70,28.61 L93.50,33.94 L94.30,39.30 L95.10,47.38 L95.90,52.55 L96.70,57.75 L97.50,60.02 L98.30,63.97 L99.10,67.49 L99.90,72.73 L100.70,75.46 L101.50,77.10 L102.30,76.19 L103.10,77.59 L103.90,81.28 L104.70,81.12 L105.50,82.93 L106.30,82.97 L107.10,84.20 L107.90,85.09 L108.70,85.61 L109.50,86.45 L110.30,86.03 L111.10,87.39 L111.90,87.84 L112.70,87.21 L113.50,87.74 L114.30,88.23 L115.10,87.98 L115.90,87.88 L116.70,87.96 L117.50,88.42 L118.30,88.04 L119.10,88.97 L119.90,88.98 L120.70,89.00 L121.50,89.23 L122.30,89.15 L123.10,89.09 L123.90,89.31 L124.70,89.33 L125.50,89.67 L126.30,89.63 L127.10,89.47 L127.90,89.78 L128.70,89.78 L129.50,89.80 L129.50,89.80" fill="none" stroke="#d81a55" stroke-width="1.25" stroke-linejoin="round"/>
<path d="M76.00,89.80 L76.80,89.50 L77.60,88.70 L78.40,89.32 L79.20,88.53 L80.00,88.03 L80.80,88.24 L81.60,87.44 L82.40,86.79 L83.20,86.51 L84.00,84.13 L84.80,83.42 L85.60,77.97 L86.40,71.33 L87.20,64.05 L88.00,54.50 L88.80,51.07 L89.60,44.79 L90.40,42.48 L91.20,41.14 L92.00,39.12 L92.80,36.19 L93.60,37.19 L94.40,40.25 L95.20,46.70 L96.00,52.39 L96.80,52.76 L97.60,60.89 L98.40,60.37 L99.20,64.47 L100.00,67.47 L100.80,72.05 L101.60,72.41 L102.40,74.29 L103.20,76.76 L104.00,75.97 L104.80,79.35 L105.60,78.19 L106.40,80.46 L107.20,80.57 L108.00,81.41 L108.80,83.45 L109.60,84.72 L110.40,86.08 L111.20,86.98 L112.00,87.66 L112.80,87.45 L113.60,87.79 L114.40,88.55 L115.20,88.72 L116.00,88.73 L116.80,89.19 L117.60,89.05 L118.40,89.38 L119.20,88.91 L120.00,89.43 L120.80,89.56 L121.60,89.68 L122.40,89.39 L123.20,89.49 L124.00,89.80 L124.80,89.72 L125.00,89.80" fill="none" stroke="#2468dc" stroke-width="1.3" stroke-linejoin="round"/>
<path d="M70.00,89.80 L71.10,89.26 L72.20,88.97 L73.30,88.19 L74.40,87.65 L75.50,87.09 L76.60,85.94 L77.70,85.29 L78.80,83.85 L79.90,81.16 L81.00,74.76 L82.10,69.87 L83.20,62.95 L84.30,58.42 L85.40,52.33 L86.50,47.74 L87.60,47.89 L88.70,45.39 L89.80,45.04 L90.90,50.03 L92.00,54.17 L93.10,59.53 L94.20,66.36 L95.30,69.32 L96.40,73.28 L97.50,76.84 L98.60,80.36 L99.70,83.81 L100.80,85.34 L101.90,86.79 L103.00,87.26 L104.10,87.96 L105.20,88.35 L106.30,88.85 L107.40,89.05 L108.50,89.19 L109.60,89.58 L110.70,89.66 L111.80,89.68 L112.90,89.71 L114.00,89.70 L115.00,89.80" fill="none" stroke="#5a5a5a" stroke-width="0.9" stroke-linejoin="round"/>
<path d="M70.00,89.80 L71.10,89.26 L72.20,88.97 L73.30,88.19 L74.40,87.65 L75.50,87.09 L76.60,85.94 L77.70,85.29 L78.80,83.85 L79.90,81.16 L81.00,74.76 L82.10,69.87 L83.20,62.95 L84.30,58.42 L85.40,52.33 L86.50,47.74 L87.60,47.89 L88.70,45.39 L89.80,45.04 L90.90,50.03 L92.00,54.17 L93.10,59.53 L94.20,66.36 L95.30,69.32 L96.40,73.28 L97.50,76.84 L98.60,80.36 L99.70,83.81 L100.80,85.34 L101.90,86.79 L103.00,87.26 L104.10,87.96 L105.20,88.35 L106.30,88.85 L107.40,89.05 L108.50,89.19 L109.60,89.58 L110.70,89.66 L111.80,89.68 L112.90,89.71 L114.00,89.70 L115.00,89.80" fill="none" stroke="#262626" stroke-width="1.25" stroke-dasharray="2.6,1.4" stroke-linejoin="round"/>
<path d="M208.00,93.10 L208.80,93.10 L209.60,93.10 L210.40,92.86 L211.20,92.93 L212.00,92.32 L212.80,92.06 L213.60,91.76 L214.40,91.07 L215.20,90.43 L216.00,90.31 L216.80,89.44 L217.60,88.13 L218.40,88.04 L219.20,86.13 L220.00,84.21 L220.80,83.22 L221.60,80.67 L222.40,78.23 L223.20,76.75 L224.00,71.45 L224.80,69.61 L225.60,64.37 L226.40,55.01 L227.20,49.79 L228.00,40.51 L228.80,29.34 L229.60,27.91 L230.40,21.68 L231.20,19.46 L232.00,24.25 L232.80,28.25 L233.60,37.75 L234.40,47.51 L235.20,53.62 L236.00,58.65 L236.80,66.08 L237.60,70.13 L238.40,73.42 L239.20,75.19 L240.00,79.73 L240.80,81.61 L241.60,82.98 L242.40,84.39 L243.20,86.90 L244.00,87.28 L244.80,88.82 L245.60,89.86 L246.40,90.03 L247.20,90.16 L248.00,90.94 L248.80,91.05 L249.60,91.71 L250.40,91.66 L251.20,92.30 L252.00,92.40 L252.80,92.35 L253.60,92.11 L254.40,92.19 L255.20,92.83 L256.00,92.87 L256.80,92.90 L257.60,92.92 L258.40,93.06 L259.20,93.10 L260.00,93.10 L260.80,93.10 L261.60,93.10 L262.00,93.10" fill="none" stroke="#d81a55" stroke-width="1.25" stroke-linejoin="round"/>
<path d="M212.00,93.10 L212.80,92.63 L213.60,92.70 L214.40,92.38 L215.20,91.79 L216.00,91.47 L216.80,90.97 L217.60,89.64 L218.40,89.40 L219.20,86.77 L220.00,86.09 L220.80,84.79 L221.60,81.14 L222.40,79.78 L223.20,77.86 L224.00,74.32 L224.80,68.49 L225.60,68.29 L226.40,62.69 L227.20,56.46 L228.00,53.51 L228.80,48.38 L229.60,44.10 L230.40,38.85 L231.20,38.26 L232.00,35.05 L232.80,37.19 L233.60,41.47 L234.40,47.61 L235.20,47.55 L236.00,55.77 L236.80,60.86 L237.60,62.83 L238.40,68.16 L239.20,70.45 L240.00,74.51 L240.80,77.99 L241.60,79.34 L242.40,82.10 L243.20,86.07 L244.00,86.58 L244.80,87.86 L245.60,90.03 L246.40,90.13 L247.20,91.55 L248.00,91.45 L248.80,92.05 L249.60,91.47 L250.40,92.30 L251.20,92.63 L252.00,92.19 L252.80,92.98 L253.60,92.61 L254.40,92.93 L255.00,93.10" fill="none" stroke="#2468dc" stroke-width="1.3" stroke-linejoin="round"/>
<path d="M208.00,93.10 L209.10,92.69 L210.20,92.26 L211.30,92.26 L212.40,91.71 L213.50,91.61 L214.60,90.80 L215.70,90.69 L216.80,89.83 L217.90,88.09 L219.00,87.22 L220.10,86.45 L221.20,82.95 L222.30,79.47 L223.40,72.07 L224.50,64.07 L225.60,58.64 L226.70,51.50 L227.80,42.34 L228.90,35.24 L230.00,30.75 L231.10,28.05 L232.20,26.62 L233.30,29.19 L234.40,36.20 L235.50,44.30 L236.60,54.32 L237.70,63.95 L238.80,67.79 L239.90,73.77 L241.00,78.54 L242.10,81.96 L243.20,85.54 L244.30,86.98 L245.40,89.18 L246.50,89.72 L247.60,90.67 L248.70,91.02 L249.80,91.48 L250.90,92.24 L252.00,92.43 L253.10,92.49 L254.20,92.96 L255.00,93.10" fill="none" stroke="#5a5a5a" stroke-width="0.9" stroke-linejoin="round"/>
<path d="M208.00,93.10 L209.10,92.69 L210.20,92.26 L211.30,92.26 L212.40,91.71 L213.50,91.61 L214.60,90.80 L215.70,90.69 L216.80,89.83 L217.90,88.09 L219.00,87.22 L220.10,86.45 L221.20,82.95 L222.30,79.47 L223.40,72.07 L224.50,64.07 L225.60,58.64 L226.70,51.50 L227.80,42.34 L228.90,35.24 L230.00,30.75 L231.10,28.05 L232.20,26.62 L233.30,29.19 L234.40,36.20 L235.50,44.30 L236.60,54.32 L237.70,63.95 L238.80,67.79 L239.90,73.77 L241.00,78.54 L242.10,81.96 L243.20,85.54 L244.30,86.98 L245.40,89.18 L246.50,89.72 L247.60,90.67 L248.70,91.02 L249.80,91.48 L250.90,92.24 L252.00,92.43 L253.10,92.49 L254.20,92.96 L255.00,93.10" fill="none" stroke="#262626" stroke-width="1.25" stroke-dasharray="2.6,1.4" stroke-linejoin="round"/>
<path d="M74.00,191.20 L75.10,190.82 L76.20,190.72 L77.30,190.34 L78.40,189.66 L79.50,189.79 L80.60,188.58 L81.70,187.64 L82.80,186.59 L83.90,183.41 L85.00,179.44 L86.10,173.85 L87.20,166.86 L88.30,157.45 L89.40,143.82 L90.50,133.83 L91.60,124.47 L92.70,124.51 L93.80,133.27 L94.90,146.57 L96.00,159.02 L97.10,168.68 L98.20,171.89 L99.30,175.13 L100.40,179.43 L101.50,181.92 L102.60,183.39 L103.70,185.21 L104.80,187.23 L105.90,188.42 L107.00,188.55 L108.10,189.77 L109.20,190.20 L110.30,190.45 L111.40,190.66 L112.50,190.75 L113.60,190.87 L114.70,191.15 L115.80,191.06 L116.90,191.17 L118.00,191.20 L118.00,191.20" fill="none" stroke="#5a5a5a" stroke-width="0.9" stroke-linejoin="round"/>
<path d="M74.00,191.20 L75.10,190.82 L76.20,190.72 L77.30,190.34 L78.40,189.66 L79.50,189.79 L80.60,188.58 L81.70,187.64 L82.80,186.59 L83.90,183.41 L85.00,179.44 L86.10,173.85 L87.20,166.86 L88.30,157.45 L89.40,143.82 L90.50,133.83 L91.60,124.47 L92.70,124.51 L93.80,133.27 L94.90,146.57 L96.00,159.02 L97.10,168.68 L98.20,171.89 L99.30,175.13 L100.40,179.43 L101.50,181.92 L102.60,183.39 L103.70,185.21 L104.80,187.23 L105.90,188.42 L107.00,188.55 L108.10,189.77 L109.20,190.20 L110.30,190.45 L111.40,190.66 L112.50,190.75 L113.60,190.87 L114.70,191.15 L115.80,191.06 L116.90,191.17 L118.00,191.20 L118.00,191.20" fill="none" stroke="#262626" stroke-width="1.25" stroke-dasharray="2.6,1.4" stroke-linejoin="round"/>
<path d="M74.00,191.20 L74.80,190.82 L75.60,190.64 L76.40,191.03 L77.20,190.87 L78.00,190.70 L78.80,189.62 L79.60,189.38 L80.40,189.36 L81.20,189.26 L82.00,189.21 L82.80,187.88 L83.60,188.08 L84.40,186.23 L85.20,184.83 L86.00,184.43 L86.80,181.15 L87.60,177.61 L88.40,172.86 L89.20,169.42 L90.00,163.46 L90.80,159.53 L91.60,157.40 L92.40,153.53 L93.20,145.85 L94.00,143.98 L94.80,146.80 L95.60,146.45 L96.40,150.03 L97.20,148.62 L98.00,149.72 L98.80,148.21 L99.60,150.50 L100.40,147.40 L101.20,148.33 L102.00,149.51 L102.80,145.32 L103.60,146.37 L104.40,147.69 L105.20,149.07 L106.00,146.66 L106.80,146.22 L107.60,144.14 L108.40,147.91 L109.20,143.69 L110.00,145.83 L110.80,152.58 L111.60,155.03 L112.40,158.35 L113.20,158.24 L114.00,162.79 L114.80,160.79 L115.60,163.40 L116.40,167.48 L117.20,165.83 L118.00,168.17 L118.80,171.31 L119.60,172.11 L120.40,171.08 L121.20,171.35 L122.00,173.23 L122.80,175.71 L123.60,175.00 L124.40,174.79 L125.20,178.01 L126.00,178.22 L126.80,180.31 L127.60,181.12 L128.40,181.77 L129.20,180.91 L130.00,182.96 L130.80,182.23 L131.60,183.16 L132.40,184.24 L133.20,186.43 L134.00,186.97 L134.80,186.04 L135.60,186.85 L136.40,187.33 L137.20,187.75 L138.00,188.20 L138.80,188.54 L139.60,188.57 L140.40,189.45 L141.20,190.04 L142.00,189.93 L142.80,190.45 L143.60,190.28 L144.40,190.04 L144.60,190.40" fill="none" stroke="#2468dc" stroke-width="1.3" stroke-linejoin="round"/>
<path d="M76.00,191.20 L76.80,191.05 L77.60,190.45 L78.40,189.96 L79.20,190.07 L80.00,189.79 L80.80,189.45 L81.60,189.53 L82.40,188.61 L83.20,188.18 L84.00,185.93 L84.80,185.28 L85.60,183.59 L86.40,178.49 L87.20,174.22 L88.00,172.18 L88.80,168.82 L89.60,160.04 L90.40,157.70 L91.20,150.99 L92.00,149.69 L92.80,147.88 L93.60,151.44 L94.40,155.71 L95.20,160.68 L96.00,161.76 L96.80,164.64 L97.60,164.62 L98.40,165.89 L99.20,169.88 L100.00,169.93 L100.80,170.40 L101.60,171.63 L102.40,173.22 L103.20,173.89 L104.00,175.18 L104.80,173.87 L105.60,175.74 L106.40,175.61 L107.20,176.70 L108.00,177.07 L108.80,177.82 L109.60,178.76 L110.40,179.81 L111.20,179.73 L112.00,180.27 L112.80,181.60 L113.60,182.56 L114.40,182.20 L115.20,182.75 L116.00,182.61 L116.80,184.45 L117.60,185.41 L118.40,184.44 L119.20,184.38 L120.00,184.83 L120.80,185.62 L121.60,185.69 L122.40,187.27 L123.20,185.91 L124.00,186.66 L124.80,186.63 L125.60,187.79 L126.40,188.24 L127.20,187.57 L128.00,187.65 L128.80,188.45 L129.60,188.84 L130.40,189.45 L131.20,188.55 L132.00,188.83 L132.80,189.11 L133.60,189.31 L134.40,189.47 L135.20,190.08 L136.00,190.07 L136.80,189.84 L137.60,189.93 L138.40,190.12 L139.20,190.14 L140.00,190.67 L140.80,190.45 L141.60,190.69 L142.40,190.93 L143.20,190.82 L144.00,190.82 L144.60,191.00" fill="none" stroke="#d81a55" stroke-width="1.45" stroke-linejoin="round"/>
<path d="M212.00,193.20 L213.10,192.59 L214.20,191.80 L215.30,191.01 L216.40,190.65 L217.50,188.99 L218.60,187.58 L219.70,185.76 L220.80,183.40 L221.90,179.79 L223.00,175.80 L224.10,173.55 L225.20,167.81 L226.30,163.37 L227.40,160.08 L228.50,156.13 L229.60,150.49 L230.70,151.53 L231.80,154.96 L232.90,159.14 L234.00,162.47 L235.10,167.04 L236.20,172.12 L237.30,175.71 L238.40,178.29 L239.50,181.57 L240.60,184.27 L241.70,185.98 L242.80,187.75 L243.90,189.08 L245.00,190.85 L246.10,191.32 L247.20,191.97 L248.30,191.79 L249.40,192.48 L250.50,192.74 L251.60,193.11 L252.00,193.20" fill="none" stroke="#5a5a5a" stroke-width="0.9" stroke-linejoin="round"/>
<path d="M212.00,193.20 L213.10,192.59 L214.20,191.80 L215.30,191.01 L216.40,190.65 L217.50,188.99 L218.60,187.58 L219.70,185.76 L220.80,183.40 L221.90,179.79 L223.00,175.80 L224.10,173.55 L225.20,167.81 L226.30,163.37 L227.40,160.08 L228.50,156.13 L229.60,150.49 L230.70,151.53 L231.80,154.96 L232.90,159.14 L234.00,162.47 L235.10,167.04 L236.20,172.12 L237.30,175.71 L238.40,178.29 L239.50,181.57 L240.60,184.27 L241.70,185.98 L242.80,187.75 L243.90,189.08 L245.00,190.85 L246.10,191.32 L247.20,191.97 L248.30,191.79 L249.40,192.48 L250.50,192.74 L251.60,193.11 L252.00,193.20" fill="none" stroke="#262626" stroke-width="1.25" stroke-dasharray="2.6,1.4" stroke-linejoin="round"/>
<path d="M208.00,193.20 L208.80,193.20 L209.60,192.70 L210.40,192.66 L211.20,192.86 L212.00,192.22 L212.80,191.72 L213.60,191.27 L214.40,192.22 L215.20,191.81 L216.00,190.94 L216.80,190.87 L217.60,190.51 L218.40,189.70 L219.20,190.72 L220.00,189.65 L220.80,188.24 L221.60,187.09 L222.40,187.49 L223.20,186.35 L224.00,186.54 L224.80,185.11 L225.60,183.27 L226.40,179.73 L227.20,177.30 L228.00,174.79 L228.80,170.34 L229.60,169.33 L230.40,163.91 L231.20,161.66 L232.00,160.98 L232.80,154.57 L233.60,153.93 L234.40,150.11 L235.20,153.00 L236.00,148.92 L236.80,154.02 L237.60,155.14 L238.40,156.50 L239.20,154.68 L240.00,158.56 L240.80,164.01 L241.60,163.43 L242.40,168.47 L243.20,171.38 L244.00,176.55 L244.80,177.52 L245.60,181.02 L246.40,181.33 L247.20,185.25 L248.00,186.05 L248.80,188.86 L249.60,188.03 L250.40,190.37 L251.20,189.71 L252.00,190.71 L252.80,190.96 L253.60,190.63 L254.40,191.86 L255.20,191.38 L256.00,191.66 L256.80,191.65 L257.60,192.12 L258.40,192.47 L259.20,192.83 L260.00,192.72 L260.80,193.06 L261.60,193.00 L262.00,193.20" fill="none" stroke="#2468dc" stroke-width="1.3" stroke-linejoin="round"/>
<path d="M214.00,193.20 L214.80,193.20 L215.60,193.20 L216.40,193.20 L217.20,193.20 L218.00,193.20 L218.80,193.20 L219.60,193.20 L220.40,192.90 L221.20,192.74 L222.00,192.33 L222.80,191.63 L223.60,192.25 L224.40,191.65 L225.20,190.21 L226.00,189.72 L226.80,187.44 L227.60,184.93 L228.40,181.36 L229.20,175.31 L230.00,169.22 L230.80,162.99 L231.60,158.39 L232.40,150.50 L233.20,143.86 L234.00,139.80 L234.80,132.13 L235.60,130.81 L236.40,128.38 L237.20,133.51 L238.00,138.06 L238.80,147.37 L239.60,151.54 L240.40,159.66 L241.20,166.17 L242.00,174.15 L242.80,179.21 L243.60,181.46 L244.40,184.73 L245.20,187.51 L246.00,188.26 L246.80,188.26 L247.60,189.19 L248.40,189.63 L249.20,190.08 L250.00,190.86 L250.80,190.76 L251.60,191.96 L252.40,191.61 L253.20,191.85 L254.00,192.11 L254.80,192.34 L255.60,192.48 L256.40,192.22 L257.20,192.28 L258.00,192.44 L258.80,192.29 L259.60,192.67 L260.40,192.96 L261.20,193.16 L262.00,193.14 L262.80,193.15 L263.60,193.18 L264.00,193.20" fill="none" stroke="#d81a55" stroke-width="1.45" stroke-linejoin="round"/>
<path d="M70.00,292.60 L71.10,292.38 L72.20,291.61 L73.30,291.27 L74.40,290.49 L75.50,289.50 L76.60,287.88 L77.70,285.85 L78.80,283.10 L79.90,279.39 L81.00,272.73 L82.10,265.49 L83.20,255.51 L84.30,244.13 L85.40,232.38 L86.50,225.03 L87.60,219.42 L88.70,215.51 L89.80,216.49 L90.90,220.39 L92.00,226.92 L93.10,234.04 L94.20,239.76 L95.30,248.62 L96.40,255.98 L97.50,261.59 L98.60,266.37 L99.70,269.58 L100.80,273.63 L101.90,275.86 L103.00,277.87 L104.10,280.82 L105.20,281.50 L106.30,284.41 L107.40,284.88 L108.50,286.94 L109.60,287.85 L110.70,288.52 L111.80,289.80 L112.90,290.33 L114.00,291.03 L115.10,291.71 L116.20,291.76 L117.30,291.95 L118.40,292.23 L119.50,292.44 L120.60,292.41 L121.70,292.47 L122.80,292.60 L123.00,292.60" fill="none" stroke="#5a5a5a" stroke-width="0.9" stroke-linejoin="round"/>
<path d="M70.00,292.60 L71.10,292.38 L72.20,291.61 L73.30,291.27 L74.40,290.49 L75.50,289.50 L76.60,287.88 L77.70,285.85 L78.80,283.10 L79.90,279.39 L81.00,272.73 L82.10,265.49 L83.20,255.51 L84.30,244.13 L85.40,232.38 L86.50,225.03 L87.60,219.42 L88.70,215.51 L89.80,216.49 L90.90,220.39 L92.00,226.92 L93.10,234.04 L94.20,239.76 L95.30,248.62 L96.40,255.98 L97.50,261.59 L98.60,266.37 L99.70,269.58 L100.80,273.63 L101.90,275.86 L103.00,277.87 L104.10,280.82 L105.20,281.50 L106.30,284.41 L107.40,284.88 L108.50,286.94 L109.60,287.85 L110.70,288.52 L111.80,289.80 L112.90,290.33 L114.00,291.03 L115.10,291.71 L116.20,291.76 L117.30,291.95 L118.40,292.23 L119.50,292.44 L120.60,292.41 L121.70,292.47 L122.80,292.60 L123.00,292.60" fill="none" stroke="#262626" stroke-width="1.25" stroke-dasharray="2.6,1.4" stroke-linejoin="round"/>
<path d="M78.00,292.60 L78.80,292.60 L79.60,292.60 L80.40,292.60 L81.20,292.60 L82.00,292.60 L82.80,292.36 L83.60,292.32 L84.40,292.12 L85.20,291.59 L86.00,290.53 L86.80,290.80 L87.60,290.27 L88.40,288.32 L89.20,285.79 L90.00,283.48 L90.80,278.88 L91.60,277.71 L92.40,276.09 L93.20,271.22 L94.00,270.05 L94.80,269.24 L95.60,264.99 L96.40,268.99 L97.20,267.83 L98.00,266.31 L98.80,266.26 L99.60,266.98 L100.40,267.81 L101.20,267.18 L102.00,263.91 L102.80,266.34 L103.60,262.36 L104.40,262.32 L105.20,260.31 L106.00,265.68 L106.80,262.43 L107.60,268.06 L108.40,266.74 L109.20,266.48 L110.00,265.60 L110.80,263.27 L111.60,266.92 L112.40,268.26 L113.20,268.52 L114.00,268.54 L114.80,266.99 L115.60,271.53 L116.40,269.69 L117.20,273.50 L118.00,270.96 L118.80,273.08 L119.60,274.62 L120.40,271.78 L121.20,273.69 L122.00,271.74 L122.80,271.93 L123.60,273.22 L124.40,277.64 L125.20,278.34 L126.00,278.15 L126.80,277.79 L127.60,280.25 L128.40,281.38 L129.20,280.84 L130.00,282.27 L130.80,283.61 L131.60,281.58 L132.40,282.80 L133.20,284.27 L134.00,283.95 L134.80,285.37 L135.60,286.57 L136.40,286.24 L137.20,287.75 L138.00,287.75 L138.80,288.91 L139.60,288.82 L140.40,289.75 L141.20,288.94 L142.00,290.33 L142.80,289.74 L143.60,291.35 L144.40,291.43 L144.60,291.60" fill="none" stroke="#2468dc" stroke-width="1.3" stroke-linejoin="round"/>
<path d="M79.00,292.60 L79.80,292.60 L80.60,292.60 L81.40,292.60 L82.20,292.58 L83.00,292.59 L83.80,292.48 L84.60,292.51 L85.40,292.00 L86.20,291.03 L87.00,288.16 L87.80,284.63 L88.60,280.40 L89.40,276.67 L90.20,269.11 L91.00,262.08 L91.80,255.60 L92.60,251.93 L93.40,244.34 L94.20,238.98 L95.00,238.19 L95.80,234.95 L96.60,230.37 L97.40,228.79 L98.20,232.35 L99.00,234.34 L99.80,237.93 L100.60,237.00 L101.40,238.91 L102.20,242.47 L103.00,244.98 L103.80,246.70 L104.60,247.10 L105.40,251.35 L106.20,251.96 L107.00,252.43 L107.80,255.29 L108.60,259.14 L109.40,262.02 L110.20,264.30 L111.00,270.32 L111.80,272.67 L112.60,273.43 L113.40,275.89 L114.20,275.87 L115.00,278.54 L115.80,277.93 L116.60,280.73 L117.40,281.28 L118.20,283.22 L119.00,282.02 L119.80,284.70 L120.60,283.91 L121.40,285.64 L122.20,287.20 L123.00,285.80 L123.80,286.82 L124.60,287.38 L125.40,287.84 L126.20,287.76 L127.00,289.50 L127.80,289.65 L128.60,289.28 L129.40,289.50 L130.20,290.07 L131.00,289.59 L131.80,289.83 L132.60,291.12 L133.40,290.64 L134.20,291.06 L135.00,291.68 L135.80,291.88 L136.60,291.60 L137.40,291.56 L138.20,291.77 L139.00,292.31 L139.80,292.37 L140.60,292.08 L141.40,292.47 L142.20,292.33 L143.00,292.45 L143.80,292.45 L144.50,292.60" fill="none" stroke="#d81a55" stroke-width="1.45" stroke-linejoin="round"/>
<path d="M208.00,294.30 L209.10,294.26 L210.20,294.17 L211.30,293.66 L212.40,293.48 L213.50,292.89 L214.60,292.68 L215.70,292.56 L216.80,292.21 L217.90,291.63 L219.00,290.36 L220.10,289.42 L221.20,287.52 L222.30,285.21 L223.40,283.33 L224.50,281.14 L225.60,277.44 L226.70,272.19 L227.80,267.35 L228.90,258.58 L230.00,249.80 L231.10,241.57 L232.20,234.46 L233.30,228.11 L234.40,220.30 L235.50,226.87 L236.60,229.58 L237.70,224.53 L238.80,228.13 L239.90,238.72 L241.00,246.79 L242.10,254.53 L243.20,262.01 L244.30,271.20 L245.40,274.56 L246.50,280.08 L247.60,283.07 L248.70,285.44 L249.80,288.50 L250.90,289.44 L252.00,290.89 L253.10,292.06 L254.20,292.41 L255.30,293.34 L256.40,293.34 L257.50,293.60 L258.60,293.84 L259.70,294.24 L260.00,294.30" fill="none" stroke="#5a5a5a" stroke-width="0.9" stroke-linejoin="round"/>
<path d="M208.00,294.30 L209.10,294.26 L210.20,294.17 L211.30,293.66 L212.40,293.48 L213.50,292.89 L214.60,292.68 L215.70,292.56 L216.80,292.21 L217.90,291.63 L219.00,290.36 L220.10,289.42 L221.20,287.52 L222.30,285.21 L223.40,283.33 L224.50,281.14 L225.60,277.44 L226.70,272.19 L227.80,267.35 L228.90,258.58 L230.00,249.80 L231.10,241.57 L232.20,234.46 L233.30,228.11 L234.40,220.30 L235.50,226.87 L236.60,229.58 L237.70,224.53 L238.80,228.13 L239.90,238.72 L241.00,246.79 L242.10,254.53 L243.20,262.01 L244.30,271.20 L245.40,274.56 L246.50,280.08 L247.60,283.07 L248.70,285.44 L249.80,288.50 L250.90,289.44 L252.00,290.89 L253.10,292.06 L254.20,292.41 L255.30,293.34 L256.40,293.34 L257.50,293.60 L258.60,293.84 L259.70,294.24 L260.00,294.30" fill="none" stroke="#262626" stroke-width="1.25" stroke-dasharray="2.6,1.4" stroke-linejoin="round"/>
<path d="M211.00,294.30 L211.80,294.30 L212.60,294.30 L213.40,294.29 L214.20,293.95 L215.00,294.11 L215.80,293.07 L216.60,292.68 L217.40,293.06 L218.20,292.08 L219.00,292.60 L219.80,292.17 L220.60,291.46 L221.40,289.80 L222.20,290.47 L223.00,290.49 L223.80,288.64 L224.60,286.82 L225.40,286.20 L226.20,285.34 L227.00,285.52 L227.80,282.71 L228.60,281.70 L229.40,281.00 L230.20,281.82 L231.00,281.56 L231.80,279.14 L232.60,279.64 L233.40,279.99 L234.20,278.16 L235.00,275.99 L235.80,275.69 L236.60,277.87 L237.40,275.87 L238.20,273.10 L239.00,273.86 L239.80,269.95 L240.60,273.18 L241.40,268.64 L242.20,266.95 L243.00,264.30 L243.80,258.59 L244.60,258.33 L245.40,252.15 L246.20,248.05 L247.00,249.22 L247.80,244.64 L248.60,245.92 L249.40,249.29 L250.20,247.58 L251.00,249.11 L251.80,252.23 L252.60,252.43 L253.40,259.29 L254.20,263.70 L255.00,262.73 L255.80,268.76 L256.60,273.65 L257.40,275.11 L258.20,280.44 L259.00,281.27 L259.80,282.54 L260.60,285.85 L261.40,287.71 L262.20,288.33 L263.00,290.23 L263.80,291.41 L264.60,291.65 L265.40,292.24 L266.20,293.16 L267.00,293.24 L267.80,293.31 L268.60,293.94 L269.40,293.44 L270.20,294.08 L271.00,293.88 L271.80,294.27 L272.00,294.30" fill="none" stroke="#2468dc" stroke-width="1.3" stroke-linejoin="round"/>
<path d="M211.00,294.30 L211.80,294.21 L212.60,294.11 L213.40,293.88 L214.20,293.69 L215.00,293.03 L215.80,293.04 L216.60,292.53 L217.40,292.65 L218.20,292.26 L219.00,291.29 L219.80,291.59 L220.60,291.21 L221.40,290.20 L222.20,289.72 L223.00,286.93 L223.80,285.12 L224.60,282.69 L225.40,281.74 L226.20,279.08 L227.00,276.13 L227.80,271.51 L228.60,269.41 L229.40,262.45 L230.20,262.48 L231.00,257.53 L231.80,254.47 L232.60,253.40 L233.40,249.45 L234.20,248.06 L235.00,248.32 L235.80,247.43 L236.60,249.99 L237.40,252.93 L238.20,253.24 L239.00,249.95 L239.80,246.81 L240.60,243.37 L241.40,249.27 L242.20,249.40 L243.00,251.63 L243.80,252.88 L244.60,256.72 L245.40,258.70 L246.20,259.54 L247.00,257.21 L247.80,259.71 L248.60,260.92 L249.40,262.09 L250.20,267.52 L251.00,265.89 L251.80,270.62 L252.60,275.12 L253.40,279.35 L254.20,279.55 L255.00,282.93 L255.80,285.85 L256.60,286.07 L257.40,288.21 L258.20,290.71 L259.00,290.49 L259.80,291.69 L260.60,292.12 L261.40,292.63 L262.20,292.55 L263.00,292.76 L263.80,293.77 L264.60,293.71 L265.40,293.79 L266.20,293.54 L267.00,293.64 L267.80,293.89 L268.60,293.79 L269.40,293.96 L270.20,294.22 L271.00,294.02 L271.80,294.06 L272.60,294.30 L273.40,294.23 L274.20,294.15 L275.00,294.30" fill="none" stroke="#d81a55" stroke-width="1.45" stroke-linejoin="round"/>
<path d="M70.00,394.70 L71.10,394.70 L72.20,394.70 L73.30,394.70 L74.40,394.70 L75.50,394.57 L76.60,394.16 L77.70,393.99 L78.80,393.51 L79.90,392.92 L81.00,392.53 L82.10,391.61 L83.20,388.96 L84.30,385.47 L85.40,379.89 L86.50,371.20 L87.60,358.89 L88.70,346.37 L89.80,335.31 L90.90,336.57 L92.00,346.75 L93.10,348.97 L94.20,350.33 L95.30,356.77 L96.40,360.59 L97.50,363.37 L98.60,368.59 L99.70,373.07 L100.80,377.71 L101.90,380.06 L103.00,383.32 L104.10,386.39 L105.20,388.28 L106.30,389.95 L107.40,390.43 L108.50,391.41 L109.60,391.60 L110.70,392.55 L111.80,393.04 L112.90,393.30 L114.00,393.65 L115.10,393.64 L116.20,394.19 L117.30,394.40 L118.40,394.55 L119.50,394.61 L120.00,394.70" fill="none" stroke="#5a5a5a" stroke-width="0.9" stroke-linejoin="round"/>
<path d="M70.00,394.70 L71.10,394.70 L72.20,394.70 L73.30,394.70 L74.40,394.70 L75.50,394.57 L76.60,394.16 L77.70,393.99 L78.80,393.51 L79.90,392.92 L81.00,392.53 L82.10,391.61 L83.20,388.96 L84.30,385.47 L85.40,379.89 L86.50,371.20 L87.60,358.89 L88.70,346.37 L89.80,335.31 L90.90,336.57 L92.00,346.75 L93.10,348.97 L94.20,350.33 L95.30,356.77 L96.40,360.59 L97.50,363.37 L98.60,368.59 L99.70,373.07 L100.80,377.71 L101.90,380.06 L103.00,383.32 L104.10,386.39 L105.20,388.28 L106.30,389.95 L107.40,390.43 L108.50,391.41 L109.60,391.60 L110.70,392.55 L111.80,393.04 L112.90,393.30 L114.00,393.65 L115.10,393.64 L116.20,394.19 L117.30,394.40 L118.40,394.55 L119.50,394.61 L120.00,394.70" fill="none" stroke="#262626" stroke-width="1.25" stroke-dasharray="2.6,1.4" stroke-linejoin="round"/>
<path d="M75.00,394.70 L75.80,394.70 L76.60,394.70 L77.40,394.70 L78.20,394.70 L79.00,394.70 L79.80,394.55 L80.60,394.49 L81.40,393.83 L82.20,393.39 L83.00,393.60 L83.80,392.55 L84.60,392.76 L85.40,391.28 L86.20,390.95 L87.00,389.94 L87.80,389.97 L88.60,387.98 L89.40,386.54 L90.20,384.48 L91.00,382.81 L91.80,379.65 L92.60,378.25 L93.40,378.93 L94.20,375.87 L95.00,375.40 L95.80,370.93 L96.60,370.80 L97.40,368.40 L98.20,371.33 L99.00,369.97 L99.80,370.57 L100.60,370.39 L101.40,371.71 L102.20,371.65 L103.00,371.40 L103.80,373.54 L104.60,372.55 L105.40,370.95 L106.20,372.37 L107.00,372.36 L107.80,376.99 L108.60,374.80 L109.40,376.97 L110.20,376.89 L111.00,377.82 L111.80,373.88 L112.60,375.66 L113.40,376.60 L114.20,376.06 L115.00,380.29 L115.80,378.46 L116.60,380.54 L117.40,379.33 L118.20,376.94 L119.00,377.83 L119.80,376.54 L120.60,375.10 L121.40,374.91 L122.20,376.24 L123.00,373.15 L123.80,374.46 L124.60,375.25 L125.40,376.23 L126.20,374.85 L127.00,377.97 L127.80,376.50 L128.60,379.12 L129.40,379.46 L130.20,377.90 L131.00,378.80 L131.80,379.74 L132.60,382.04 L133.40,381.40 L134.20,381.92 L135.00,384.32 L135.80,382.70 L136.60,383.82 L137.40,384.96 L138.20,385.47 L139.00,385.74 L139.80,386.14 L140.60,388.02 L141.40,387.68 L142.20,387.76 L143.00,386.69 L143.80,380.69 L144.20,379.40" fill="none" stroke="#2468dc" stroke-width="1.3" stroke-linejoin="round"/>
<path d="M70.00,394.70 L70.80,394.70 L71.60,394.70 L72.40,394.70 L73.20,394.70 L74.00,394.70 L74.80,394.70 L75.60,394.70 L76.40,394.70 L77.20,394.56 L78.00,394.54 L78.80,394.41 L79.60,394.07 L80.40,394.10 L81.20,393.92 L82.00,393.88 L82.80,393.51 L83.60,393.11 L84.40,392.96 L85.20,392.48 L86.00,391.18 L86.80,390.59 L87.60,387.27 L88.40,382.62 L89.20,378.87 L90.00,375.12 L90.80,369.65 L91.60,366.96 L92.40,362.94 L93.20,357.44 L94.00,353.21 L94.80,345.77 L95.60,343.19 L96.40,339.79 L97.20,336.00 L98.00,335.94 L98.80,334.32 L99.60,337.63 L100.40,339.65 L101.20,340.46 L102.00,341.54 L102.80,343.54 L103.60,345.22 L104.40,349.43 L105.20,354.58 L106.00,355.83 L106.80,357.16 L107.60,361.60 L108.40,362.17 L109.20,366.28 L110.00,369.82 L110.80,373.76 L111.60,373.52 L112.40,376.18 L113.20,379.11 L114.00,379.98 L114.80,380.85 L115.60,382.08 L116.40,382.67 L117.20,383.83 L118.00,384.50 L118.80,386.80 L119.60,387.65 L120.40,387.13 L121.20,388.88 L122.00,387.54 L122.80,388.26 L123.60,389.45 L124.40,389.48 L125.20,389.95 L126.00,391.36 L126.80,390.26 L127.60,390.62 L128.40,390.95 L129.20,391.86 L130.00,391.40 L130.80,391.24 L131.60,392.16 L132.40,392.09 L133.20,392.02 L134.00,392.47 L134.80,392.78 L135.60,392.76 L136.40,392.95 L137.20,392.98 L138.00,393.39 L138.80,393.63 L139.60,393.08 L140.40,393.23 L141.20,393.89 L142.00,393.55 L142.80,394.07 L143.60,394.25 L144.40,394.46 L144.50,394.40" fill="none" stroke="#d81a55" stroke-width="1.45" stroke-linejoin="round"/>
<path d="M205.00,395.20 L206.10,395.20 L207.20,395.20 L208.30,395.20 L209.40,395.20 L210.50,395.20 L211.60,395.16 L212.70,395.01 L213.80,394.81 L214.90,394.37 L216.00,393.69 L217.10,393.60 L218.20,392.08 L219.30,391.37 L220.40,388.31 L221.50,385.22 L222.60,382.05 L223.70,376.44 L224.80,371.50 L225.90,366.81 L227.00,360.43 L228.10,352.56 L229.20,346.15 L230.30,341.66 L231.40,335.66 L232.50,331.80 L233.60,328.51 L234.70,336.68 L235.80,345.45 L236.90,352.71 L238.00,361.64 L239.10,368.67 L240.20,374.66 L241.30,380.59 L242.40,384.51 L243.50,387.43 L244.60,389.99 L245.70,392.12 L246.80,393.16 L247.90,393.34 L249.00,394.19 L250.10,394.53 L251.20,394.55 L252.30,394.76 L253.40,394.83 L254.50,395.10 L255.00,395.20" fill="none" stroke="#5a5a5a" stroke-width="0.9" stroke-linejoin="round"/>
<path d="M205.00,395.20 L206.10,395.20 L207.20,395.20 L208.30,395.20 L209.40,395.20 L210.50,395.20 L211.60,395.16 L212.70,395.01 L213.80,394.81 L214.90,394.37 L216.00,393.69 L217.10,393.60 L218.20,392.08 L219.30,391.37 L220.40,388.31 L221.50,385.22 L222.60,382.05 L223.70,376.44 L224.80,371.50 L225.90,366.81 L227.00,360.43 L228.10,352.56 L229.20,346.15 L230.30,341.66 L231.40,335.66 L232.50,331.80 L233.60,328.51 L234.70,336.68 L235.80,345.45 L236.90,352.71 L238.00,361.64 L239.10,368.67 L240.20,374.66 L241.30,380.59 L242.40,384.51 L243.50,387.43 L244.60,389.99 L245.70,392.12 L246.80,393.16 L247.90,393.34 L249.00,394.19 L250.10,394.53 L251.20,394.55 L252.30,394.76 L253.40,394.83 L254.50,395.10 L255.00,395.20" fill="none" stroke="#262626" stroke-width="1.25" stroke-dasharray="2.6,1.4" stroke-linejoin="round"/>
<path d="M205.00,395.20 L205.80,395.20 L206.60,395.20 L207.40,395.20 L208.20,395.20 L209.00,395.20 L209.80,395.16 L210.60,394.94 L211.40,394.97 L212.20,394.53 L213.00,393.87 L213.80,393.44 L214.60,393.05 L215.40,392.22 L216.20,392.14 L217.00,390.52 L217.80,389.19 L218.60,387.63 L219.40,385.86 L220.20,385.93 L221.00,382.14 L221.80,382.06 L222.60,382.26 L223.40,380.12 L224.20,377.75 L225.00,379.82 L225.80,378.91 L226.60,374.05 L227.40,373.47 L228.20,372.34 L229.00,371.27 L229.80,366.79 L230.60,366.24 L231.40,361.67 L232.20,362.89 L233.00,360.55 L233.80,361.15 L234.60,364.10 L235.40,364.52 L236.20,363.50 L237.00,360.65 L237.80,358.44 L238.60,359.04 L239.40,357.96 L240.20,358.65 L241.00,358.05 L241.80,353.72 L242.60,354.36 L243.40,355.61 L244.20,353.81 L245.00,355.09 L245.80,355.96 L246.60,361.09 L247.40,365.84 L248.20,369.95 L249.00,369.47 L249.80,375.54 L250.60,377.10 L251.40,380.64 L252.20,382.20 L253.00,386.55 L253.80,388.99 L254.60,388.51 L255.40,391.66 L256.20,391.57 L257.00,392.28 L257.80,393.21 L258.60,394.17 L259.40,394.73 L260.20,394.08 L261.00,394.47 L261.80,394.39 L262.60,394.87 L263.40,394.93 L264.20,394.96 L265.00,395.02 L265.80,395.20 L266.00,395.20" fill="none" stroke="#2468dc" stroke-width="1.3" stroke-linejoin="round"/>
<path d="M208.00,395.20 L208.80,395.20 L209.60,395.20 L210.40,395.20 L211.20,395.20 L212.00,395.20 L212.80,395.20 L213.60,395.20 L214.40,395.07 L215.20,395.02 L216.00,394.45 L216.80,394.22 L217.60,393.91 L218.40,394.39 L219.20,393.45 L220.00,393.37 L220.80,392.53 L221.60,392.30 L222.40,391.23 L223.20,391.31 L224.00,389.45 L224.80,388.92 L225.60,386.05 L226.40,383.24 L227.20,381.14 L228.00,377.55 L228.80,373.22 L229.60,368.10 L230.40,364.30 L231.20,364.34 L232.00,358.79 L232.80,355.33 L233.60,353.55 L234.40,353.28 L235.20,355.31 L236.00,353.29 L236.80,358.77 L237.60,360.17 L238.40,364.22 L239.20,370.03 L240.00,371.32 L240.80,372.78 L241.60,377.24 L242.40,380.03 L243.20,382.44 L244.00,383.83 L244.80,387.42 L245.60,388.51 L246.40,389.82 L247.20,389.55 L248.00,391.07 L248.80,391.51 L249.60,391.18 L250.40,391.50 L251.20,392.15 L252.00,392.43 L252.80,392.66 L253.60,393.22 L254.40,393.85 L255.20,393.54 L256.00,393.91 L256.80,393.62 L257.60,394.01 L258.40,394.76 L259.20,394.25 L260.00,394.73 L260.80,395.01 L261.60,395.09 L262.40,395.16 L263.00,395.20" fill="none" stroke="#d81a55" stroke-width="1.45" stroke-linejoin="round"/>
</svg></body></html>
